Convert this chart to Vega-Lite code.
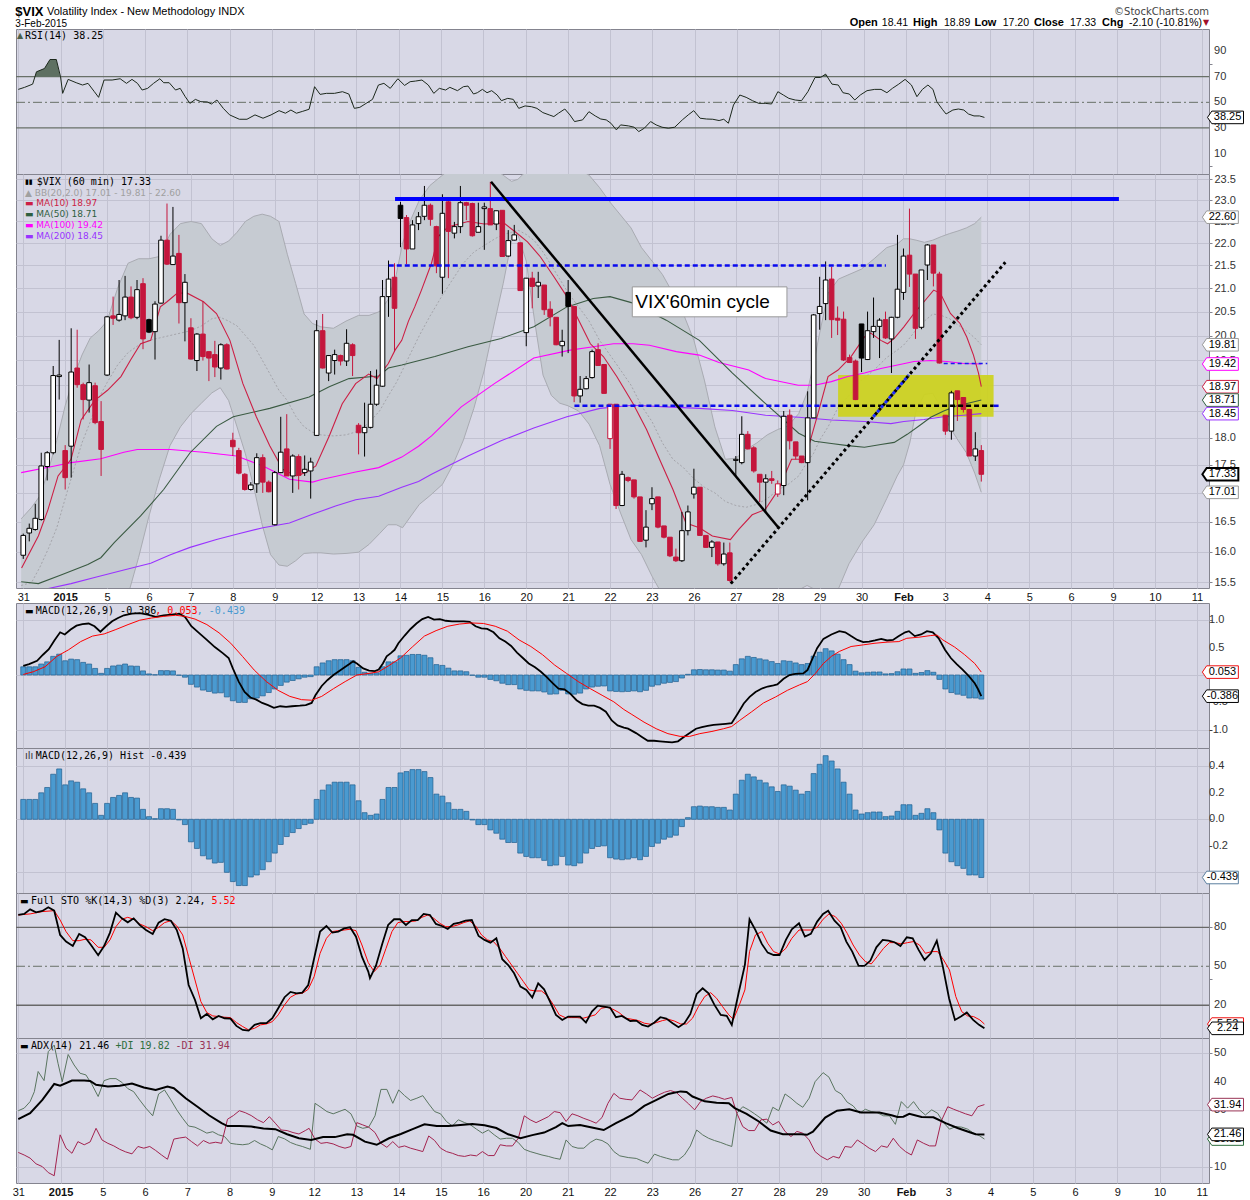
{
"$schema": "https://vega.github.io/schema/vega-lite/v6.json",
"padding": {"left": 11, "top": 0, "right": 0, "bottom": 0},
"spacing": 0,
"bounds": "flush",
"datasets": {
"candles": [
{"x":0,"o":15.94,"h":16.3,"l":15.88,"c":16.27,"m":0.15},
{"x":0.143,"o":16.31,"h":16.47,"l":16.17,"c":16.39,"m":0.15},
{"x":0.286,"o":16.37,"h":16.81,"l":16.35,"c":16.56,"m":0.15},
{"x":0.429,"o":16.54,"h":17.72,"l":16.52,"c":17.48,"m":0.2},
{"x":0.571,"o":17.47,"h":17.75,"l":17.22,"c":17.72,"m":0.24},
{"x":0.714,"o":17.72,"h":19.38,"l":17.69,"c":19.19,"m":0.34},
{"x":0.857,"o":19.17,"h":19.91,"l":18.72,"c":19.2,"m":0.38},
{"x":1,"o":17.76,"h":17.86,"l":17.06,"c":17.27,"m":0.26},
{"x":1.143,"o":17.84,"h":20.15,"l":17.27,"c":19.26,"m":0.29},
{"x":1.286,"o":19.34,"h":20.12,"l":18.95,"c":19.01,"m":0.28},
{"x":1.429,"o":19.01,"h":19.05,"l":18.34,"c":18.72,"m":0.23},
{"x":1.571,"o":18.71,"h":19.41,"l":18.47,"c":19.05,"m":0.2},
{"x":1.714,"o":18.99,"h":19.05,"l":18.25,"c":18.28,"m":0.12},
{"x":1.857,"o":18.3,"h":18.69,"l":17.3,"c":17.78,"m":0.03},
{"x":2,"o":19.2,"h":20.41,"l":19.18,"c":20.39,"m":0.12},
{"x":2.143,"o":20.41,"h":20.82,"l":20.22,"c":20.36,"m":0.165},
{"x":2.286,"o":20.32,"h":21.18,"l":20.29,"c":20.44,"m":0.18},
{"x":2.429,"o":20.41,"h":21.27,"l":20.32,"c":20.81,"m":0.2},
{"x":2.571,"o":20.81,"h":21.04,"l":20.34,"c":20.37,"m":0.165},
{"x":2.714,"o":20.38,"h":21.18,"l":20.34,"c":20.97,"m":0.16},
{"x":2.857,"o":21.1,"h":21.22,"l":19.72,"c":19.93,"m":0.075},
{"x":3,"o":20.33,"h":20.35,"l":20.05,"c":20.07,"m":0.02},
{"x":3.143,"o":20.08,"h":20.72,"l":19.51,"c":20.66,"m":0.005},
{"x":3.286,"o":20.68,"h":22.17,"l":20.67,"c":22.07,"m":0.08},
{"x":3.429,"o":22.07,"h":22.92,"l":21.51,"c":21.53,"m":0.08},
{"x":3.571,"o":21.52,"h":22.84,"l":21.51,"c":21.71,"m":0.075},
{"x":3.714,"o":21.77,"h":22.19,"l":20.25,"c":20.69,"m":-0.005},
{"x":3.857,"o":20.69,"h":21.31,"l":19.88,"c":21.13,"m":-0.04},
{"x":4,"o":20.16,"h":20.36,"l":19.51,"c":19.52,"m":-0.17},
{"x":4.143,"o":19.49,"h":20.05,"l":19.28,"c":20.03,"m":-0.22},
{"x":4.286,"o":20.03,"h":20.72,"l":19.49,"c":19.57,"m":-0.275},
{"x":4.429,"o":19.67,"h":19.67,"l":19.08,"c":19.54,"m":-0.3},
{"x":4.571,"o":19.61,"h":19.89,"l":19.16,"c":19.36,"m":-0.33},
{"x":4.714,"o":19.34,"h":19.84,"l":19.11,"c":19.81,"m":-0.325},
{"x":4.857,"o":19.81,"h":19.84,"l":19.31,"c":19.32,"m":-0.4},
{"x":5,"o":17.95,"h":18.09,"l":17.66,"c":17.83,"m":-0.47},
{"x":5.143,"o":17.76,"h":17.81,"l":17.33,"c":17.35,"m":-0.5},
{"x":5.286,"o":17.33,"h":17.35,"l":17.04,"c":17.06,"m":-0.5},
{"x":5.429,"o":17.06,"h":17.19,"l":17.04,"c":17.14,"m":-0.435},
{"x":5.571,"o":17.16,"h":17.71,"l":17,"c":17.63,"m":-0.42},
{"x":5.714,"o":17.63,"h":17.69,"l":17,"c":17.19,"m":-0.38},
{"x":5.857,"o":17.19,"h":17.22,"l":17.01,"c":17.02,"m":-0.32},
{"x":6,"o":16.45,"h":17.39,"l":16.44,"c":17.36,"m":-0.255},
{"x":6.143,"o":17.36,"h":18.39,"l":17.35,"c":17.73,"m":-0.19},
{"x":6.286,"o":17.79,"h":18.44,"l":17.3,"c":17.3,"m":-0.13},
{"x":6.429,"o":17.3,"h":17.69,"l":17,"c":17.66,"m":-0.1},
{"x":6.571,"o":17.65,"h":17.69,"l":17.06,"c":17.31,"m":-0.07},
{"x":6.714,"o":17.36,"h":17.67,"l":17.3,"c":17.42,"m":-0.04},
{"x":6.857,"o":17.39,"h":17.63,"l":16.9,"c":17.55,"m":-0.03},
{"x":7,"o":18.04,"h":20.32,"l":18.03,"c":20.1,"m":0.15},
{"x":7.143,"o":20.1,"h":20.45,"l":19.33,"c":19.34,"m":0.22},
{"x":7.286,"o":19.24,"h":19.6,"l":19.08,"c":19.59,"m":0.26},
{"x":7.429,"o":19.49,"h":19.71,"l":19.21,"c":19.61,"m":0.28},
{"x":7.571,"o":19.59,"h":19.61,"l":19.39,"c":19.48,"m":0.28},
{"x":7.714,"o":19.48,"h":20.13,"l":19.38,"c":19.84,"m":0.28},
{"x":7.857,"o":19.81,"h":19.84,"l":19.18,"c":19.59,"m":0.26},
{"x":8,"o":18.23,"h":18.27,"l":17.69,"c":18.09,"m":0.14},
{"x":8.143,"o":18.09,"h":18.66,"l":17.65,"c":18.19,"m":0.05},
{"x":8.286,"o":18.19,"h":19.28,"l":18.17,"c":18.63,"m":0.03},
{"x":8.429,"o":18.63,"h":19.31,"l":18.6,"c":19,"m":0.04},
{"x":8.571,"o":18.98,"h":21.18,"l":18.97,"c":20.82,"m":0.15},
{"x":8.714,"o":20.82,"h":21.61,"l":20.39,"c":21.2,"m":0.24},
{"x":8.857,"o":21.24,"h":21.55,"l":19.67,"c":20.57,"m":0.24},
{"x":9,"o":22.88,"h":22.96,"l":21.91,"c":22.57,"m":0.35},
{"x":9.143,"o":22.59,"h":22.65,"l":21.53,"c":21.87,"m":0.36},
{"x":9.286,"o":21.87,"h":22.53,"l":21.87,"c":22.42,"m":0.375},
{"x":9.429,"o":22.45,"h":22.72,"l":22.3,"c":22.61,"m":0.375},
{"x":9.571,"o":22.62,"h":23.34,"l":22.53,"c":22.88,"m":0.36},
{"x":9.714,"o":22.88,"h":22.92,"l":22.4,"c":22.55,"m":0.315},
{"x":9.857,"o":22.38,"h":22.4,"l":21.33,"c":21.49,"m":0.19},
{"x":10,"o":21.24,"h":23.14,"l":20.88,"c":22.69,"m":0.175},
{"x":10.143,"o":22.96,"h":23.01,"l":21.22,"c":22.27,"m":0.125},
{"x":10.286,"o":22.23,"h":22.49,"l":22.11,"c":22.38,"m":0.075},
{"x":10.429,"o":22.38,"h":23.34,"l":22.23,"c":22.94,"m":0.075},
{"x":10.571,"o":22.94,"h":22.96,"l":22.53,"c":22.88,"m":0.06},
{"x":10.714,"o":22.92,"h":22.94,"l":22.15,"c":22.17,"m":-0.005},
{"x":10.857,"o":22.25,"h":22.94,"l":22.25,"c":22.38,"m":-0.04},
{"x":11,"o":22.8,"h":22.94,"l":21.85,"c":22.84,"m":-0.04},
{"x":11.143,"o":22.8,"h":23.44,"l":22.42,"c":22.42,"m":-0.08},
{"x":11.286,"o":22.44,"h":22.75,"l":22.3,"c":22.75,"m":-0.105},
{"x":11.429,"o":22.76,"h":22.76,"l":21.7,"c":21.7,"m":-0.15},
{"x":11.571,"o":21.71,"h":22.3,"l":21.7,"c":22.06,"m":-0.175},
{"x":11.714,"o":22.07,"h":22.42,"l":22.06,"c":22.19,"m":-0.175},
{"x":11.857,"o":22.01,"h":22.01,"l":20.95,"c":20.95,"m":-0.255},
{"x":12,"o":20.06,"h":21.22,"l":19.78,"c":21.22,"m":-0.28},
{"x":12.143,"o":21.22,"h":21.36,"l":20.57,"c":21.04,"m":-0.29},
{"x":12.286,"o":21.05,"h":21.36,"l":20.79,"c":21.13,"m":-0.29},
{"x":12.429,"o":21.07,"h":21.07,"l":20.43,"c":20.54,"m":-0.31},
{"x":12.571,"o":20.55,"h":20.72,"l":20.19,"c":20.39,"m":-0.35},
{"x":12.714,"o":20.38,"h":20.38,"l":19.8,"c":19.81,"m":-0.345},
{"x":12.857,"o":19.79,"h":20.12,"l":19.57,"c":19.88,"m":-0.28},
{"x":13,"o":20.91,"h":21.18,"l":19.64,"c":20.61,"m":-0.345},
{"x":13.143,"o":20.61,"h":20.61,"l":18.67,"c":18.79,"m":-0.35},
{"x":13.286,"o":18.79,"h":19.18,"l":18.66,"c":18.92,"m":-0.33},
{"x":13.429,"o":18.93,"h":19.18,"l":18.92,"c":19.13,"m":-0.255},
{"x":13.571,"o":19.15,"h":19.71,"l":19.13,"c":19.67,"m":-0.22},
{"x":13.714,"o":19.71,"h":19.84,"l":19.38,"c":19.39,"m":-0.205},
{"x":13.857,"o":19.41,"h":19.41,"l":18.84,"c":18.84,"m":-0.2},
{"x":14,"o":17.98,"h":18.63,"l":17.79,"c":18.63,"m":-0.29},
{"x":14.143,"o":18.63,"h":18.63,"l":16.72,"c":16.78,"m":-0.3},
{"x":14.286,"o":16.78,"h":17.39,"l":16.77,"c":17.33,"m":-0.305},
{"x":14.429,"o":17.27,"h":17.29,"l":17.19,"c":17.22,"m":-0.3},
{"x":14.571,"o":17.23,"h":17.23,"l":16.9,"c":16.93,"m":-0.29},
{"x":14.714,"o":16.93,"h":16.93,"l":16.17,"c":16.17,"m":-0.305},
{"x":14.857,"o":16.19,"h":16.7,"l":16.07,"c":16.41,"m":-0.28},
{"x":15,"o":16.81,"h":17.1,"l":16.7,"c":16.9,"m":-0.205},
{"x":15.143,"o":16.93,"h":16.93,"l":16.39,"c":16.41,"m":-0.18},
{"x":15.286,"o":16.43,"h":16.43,"l":16.22,"c":16.24,"m":-0.15},
{"x":15.429,"o":16.24,"h":16.24,"l":15.91,"c":15.93,"m":-0.135},
{"x":15.571,"o":15.91,"h":16.05,"l":15.83,"c":15.85,"m":-0.12},
{"x":15.714,"o":15.85,"h":16.67,"l":15.83,"c":16.35,"m":-0.055},
{"x":15.857,"o":16.35,"h":16.78,"l":16.27,"c":16.67,"m":0.0125},
{"x":16,"o":16.98,"h":17.43,"l":16.9,"c":17.1,"m":0.095},
{"x":16.143,"o":17.1,"h":17.1,"l":16.27,"c":16.27,"m":0.1},
{"x":16.286,"o":16.27,"h":16.27,"l":16.07,"c":16.07,"m":0.095},
{"x":16.429,"o":16.07,"h":16.19,"l":15.91,"c":16.16,"m":0.095},
{"x":16.571,"o":16.16,"h":16.16,"l":15.77,"c":15.8,"m":0.09},
{"x":16.714,"o":15.8,"h":16.15,"l":15.77,"c":15.96,"m":0.09},
{"x":16.857,"o":15.98,"h":16.15,"l":15.51,"c":15.53,"m":0.07},
{"x":17,"o":17.58,"h":17.66,"l":17.3,"c":17.6,"m":0.19},
{"x":17.143,"o":17.54,"h":18.4,"l":17.51,"c":18.06,"m":0.295},
{"x":17.286,"o":18.06,"h":18.12,"l":17.78,"c":17.79,"m":0.34},
{"x":17.429,"o":17.81,"h":17.84,"l":17.36,"c":17.39,"m":0.32},
{"x":17.571,"o":17.33,"h":17.33,"l":16.84,"c":17.19,"m":0.295},
{"x":17.714,"o":17.19,"h":17.33,"l":16.67,"c":17.25,"m":0.275},
{"x":17.857,"o":17.25,"h":17.39,"l":17.16,"c":17.22,"m":0.245},
{"x":18,"o":16.98,"h":17.22,"l":16.93,"c":17.16,"m":0.21},
{"x":18.143,"o":17.13,"h":18.5,"l":16.96,"c":18.4,"m":0.26},
{"x":18.286,"o":18.42,"h":18.53,"l":17.78,"c":17.94,"m":0.25},
{"x":18.429,"o":17.92,"h":17.92,"l":17.6,"c":17.66,"m":0.22},
{"x":18.571,"o":17.66,"h":17.66,"l":17.53,"c":17.54,"m":0.19},
{"x":18.714,"o":17.54,"h":18.88,"l":16.87,"c":18.37,"m":0.21},
{"x":18.857,"o":18.37,"h":20.45,"l":18.37,"c":20.43,"m":0.345},
{"x":19,"o":20.46,"h":21.25,"l":20.12,"c":20.61,"m":0.415},
{"x":19.143,"o":20.67,"h":21.59,"l":20.32,"c":21.18,"m":0.48},
{"x":19.286,"o":21.2,"h":21.47,"l":19.95,"c":20.33,"m":0.44},
{"x":19.429,"o":20.36,"h":20.61,"l":20.01,"c":20.32,"m":0.38},
{"x":19.571,"o":20.34,"h":20.5,"l":19.48,"c":19.5,"m":0.28},
{"x":19.714,"o":19.55,"h":19.61,"l":19.44,"c":19.45,"m":0.19},
{"x":19.857,"o":19.48,"h":19.51,"l":18.71,"c":18.72,"m":0.07},
{"x":20,"o":20.24,"h":20.24,"l":19.26,"c":19.54,"m":0.04},
{"x":20.143,"o":19.51,"h":20.5,"l":19.5,"c":20.1,"m":0.05},
{"x":20.286,"o":20.08,"h":20.8,"l":19.95,"c":20.19,"m":0.055},
{"x":20.429,"o":20.19,"h":20.36,"l":19.54,"c":20.32,"m":0.055},
{"x":20.571,"o":20.33,"h":20.5,"l":19.93,"c":19.95,"m":0.02},
{"x":20.714,"o":19.93,"h":20.39,"l":19.24,"c":20.38,"m":0.025},
{"x":20.857,"o":20.38,"h":22.19,"l":20.36,"c":20.98,"m":0.06},
{"x":21,"o":20.91,"h":21.88,"l":20.75,"c":21.71,"m":0.11},
{"x":21.143,"o":21.73,"h":22.8,"l":21.03,"c":21.31,"m":0.11},
{"x":21.286,"o":21.31,"h":21.31,"l":19.93,"c":20.15,"m":0.03},
{"x":21.429,"o":20.17,"h":21.4,"l":20.13,"c":21.4,"m":0.045},
{"x":21.571,"o":21.51,"h":21.98,"l":21.18,"c":21.96,"m":0.08},
{"x":21.714,"o":21.96,"h":21.96,"l":21.04,"c":21.33,"m":0.05},
{"x":21.857,"o":21.31,"h":21.36,"l":19.43,"c":19.44,"m":-0.08},
{"x":22,"o":18.42,"h":18.42,"l":18.05,"c":18.12,"m":-0.255},
{"x":22.143,"o":18.12,"h":18.89,"l":17.96,"c":18.85,"m":-0.32},
{"x":22.286,"o":18.89,"h":18.89,"l":18.31,"c":18.72,"m":-0.35},
{"x":22.429,"o":18.76,"h":18.76,"l":18.47,"c":18.53,"m":-0.37},
{"x":22.571,"o":18.53,"h":18.54,"l":17.66,"c":17.66,"m":-0.42},
{"x":22.714,"o":17.66,"h":18.1,"l":17.57,"c":17.79,"m":-0.42},
{"x":22.857,"o":17.76,"h":17.86,"l":17.2,"c":17.33,"m":-0.439}
],
"bb": [
{"x":-0.05,"u":16.55,"m":15.45,"l":14.4},{"x":0.2,"u":16.75,"m":15.5,"l":14.3},{"x":0.4,"u":16.95,"m":15.75,"l":14.2},{"x":0.6,"u":17.4,"m":16.05,"l":14.1},
{"x":0.8,"u":17.95,"m":16.4,"l":14},{"x":1,"u":18.6,"m":16.9,"l":14},{"x":1.2,"u":19.15,"m":17.4,"l":14},{"x":1.4,"u":19.6,"m":17.9,"l":14},
{"x":1.6,"u":19.95,"m":18.3,"l":14.1},{"x":1.8,"u":20.1,"m":18.75,"l":14.2},{"x":2,"u":20.3,"m":19.05,"l":14.4},{"x":2.25,"u":21,"m":19.4,"l":14.8},
{"x":2.5,"u":21.55,"m":19.65,"l":15.3},{"x":2.75,"u":21.65,"m":19.8,"l":15.9},{"x":3,"u":21.65,"m":19.9,"l":16.6},{"x":3.25,"u":21.7,"m":19.95,"l":17.25},
{"x":3.5,"u":22.2,"m":20,"l":17.85},{"x":3.75,"u":22.45,"m":20.05,"l":18.2},{"x":4,"u":22.5,"m":20.1,"l":18.45},{"x":4.25,"u":22.45,"m":20.2,"l":18.65},
{"x":4.5,"u":22.1,"m":20.35,"l":18.85},{"x":4.7,"u":21.95,"m":20.38,"l":18.95},{"x":4.9,"u":22.05,"m":20.3,"l":18.7},{"x":5.1,"u":22.25,"m":20.2,"l":18.2},
{"x":5.3,"u":22.5,"m":20,"l":17.7},{"x":5.5,"u":22.62,"m":19.8,"l":17.1},{"x":5.7,"u":22.67,"m":19.5,"l":16.45},{"x":5.9,"u":22.62,"m":19.2,"l":15.95},
{"x":6.1,"u":22.5,"m":18.9,"l":15.78},{"x":6.3,"u":21.75,"m":18.7,"l":15.76},{"x":6.5,"u":21.1,"m":18.4,"l":15.85},{"x":6.7,"u":20.45,"m":18.2,"l":15.97},
{"x":6.9,"u":20.25,"m":18.1,"l":15.98},{"x":7.1,"u":20.18,"m":18.05,"l":15.98},{"x":7.4,"u":20.15,"m":18.03,"l":15.96},{"x":7.7,"u":20.3,"m":18.05,"l":15.97},
{"x":8,"u":20.42,"m":18.12,"l":15.99},{"x":8.25,"u":20.42,"m":18.28,"l":16.12},{"x":8.5,"u":20.5,"m":18.5,"l":16.3},{"x":8.7,"u":20.75,"m":18.78,"l":16.45},
{"x":8.9,"u":21.3,"m":19.05,"l":16.45},{"x":9.05,"u":22,"m":19.3,"l":16.4},{"x":9.25,"u":22.55,"m":19.65,"l":16.6},{"x":9.45,"u":23,"m":20,"l":16.8},
{"x":9.7,"u":23.35,"m":20.4,"l":16.95},{"x":10,"u":23.6,"m":20.85,"l":17.15},{"x":10.25,"u":23.8,"m":21.2,"l":17.5},{"x":10.5,"u":23.85,"m":21.55,"l":17.95},
{"x":10.75,"u":23.85,"m":21.8,"l":18.55},{"x":11,"u":23.8,"m":21.95,"l":19.3},{"x":11.25,"u":23.75,"m":22.1,"l":20.3},{"x":11.45,"u":23.6,"m":22.2,"l":21.1},
{"x":11.65,"u":23.45,"m":22.25,"l":22.05},{"x":11.8,"u":23.5,"m":22.3,"l":22.2},{"x":12,"u":23.7,"m":22.2,"l":21.6},{"x":12.2,"u":23.8,"m":22.05,"l":20.3},
{"x":12.4,"u":23.85,"m":21.8,"l":19.2},{"x":12.6,"u":23.85,"m":21.5,"l":18.8},{"x":12.8,"u":23.8,"m":21.2,"l":18.65},{"x":13,"u":23.8,"m":20.9,"l":18.6},
{"x":13.25,"u":23.75,"m":20.6,"l":18.5},{"x":13.5,"u":23.6,"m":20.3,"l":18.25},{"x":13.75,"u":23.3,"m":19.9,"l":17.85},{"x":14,"u":22.95,"m":19.6,"l":17.15},
{"x":14.25,"u":22.65,"m":19.3,"l":16.65},{"x":14.5,"u":22.35,"m":19,"l":16.2},{"x":14.75,"u":21.9,"m":18.6,"l":15.95},{"x":15,"u":21.6,"m":18.3,"l":15.6},
{"x":15.25,"u":21.3,"m":17.9,"l":15.3},{"x":15.5,"u":20.89,"m":17.6,"l":15},{"x":15.75,"u":20.45,"m":17.45,"l":14.8},{"x":16,"u":19.9,"m":17.25,"l":14.6},
{"x":16.25,"u":19.1,"m":17.1,"l":14.6},{"x":16.5,"u":18.2,"m":17,"l":14.6},{"x":16.75,"u":17.6,"m":16.85,"l":14.7},{"x":17,"u":17.62,"m":16.78,"l":14.8},
{"x":17.25,"u":17.78,"m":16.75,"l":14.95},{"x":17.5,"u":17.9,"m":16.8,"l":15.05},{"x":17.75,"u":18.05,"m":16.9,"l":15.15},{"x":18,"u":18.15,"m":17.05,"l":15.2},
{"x":18.25,"u":18.22,"m":17.15,"l":15.3},{"x":18.5,"u":18.45,"m":17.3,"l":15.38},{"x":18.7,"u":18.85,"m":17.55,"l":15.45},{"x":18.85,"u":19.4,"m":17.7,"l":15.4},
{"x":19,"u":20.05,"m":17.95,"l":15.35},{"x":19.2,"u":20.89,"m":18.2,"l":15.3},{"x":19.45,"u":21.2,"m":18.58,"l":15.4},{"x":19.7,"u":21.3,"m":18.8,"l":15.8},
{"x":20,"u":21.42,"m":19.1,"l":16.15},{"x":20.3,"u":21.65,"m":19.3,"l":16.45},{"x":20.6,"u":21.9,"m":19.55,"l":16.9},{"x":20.85,"u":21.98,"m":19.7,"l":17.3},
{"x":21,"u":22.1,"m":19.8,"l":17.5},{"x":21.15,"u":22.1,"m":19.95,"l":17.9},{"x":21.3,"u":22.07,"m":20.12,"l":18.5},{"x":21.5,"u":22.02,"m":20.3,"l":18.82},
{"x":21.7,"u":22.07,"m":20.45,"l":18.84},{"x":21.9,"u":22.15,"m":20.42,"l":18.55},{"x":22.1,"u":22.22,"m":20.35,"l":18.2},{"x":22.3,"u":22.28,"m":20.22,"l":17.95},
{"x":22.5,"u":22.35,"m":20.1,"l":17.72},{"x":22.7,"u":22.45,"m":19.95,"l":17.35},{"x":22.857,"u":22.6,"m":19.81,"l":17.01}
],
"ma": [
{"x":-0.04,"s":"MA10","v":15.73},{"x":0.36,"s":"MA10","v":16.26},{"x":0.59,"s":"MA10","v":16.71},{"x":0.83,"s":"MA10","v":17.3},{"x":1.14,"s":"MA10","v":17.6},{"x":1.38,"s":"MA10","v":18.33},{"x":1.7,"s":"MA10","v":18.7},{"x":2.01,"s":"MA10","v":18.9},{"x":2.33,"s":"MA10","v":19.17},{"x":2.56,"s":"MA10","v":19.5},{"x":2.8,"s":"MA10","v":19.83},{"x":3.04,"s":"MA10","v":19.9},{"x":3.27,"s":"MA10","v":20.6},{"x":3.43,"s":"MA10","v":20.71},{"x":3.67,"s":"MA10","v":20.89},{"x":3.9,"s":"MA10","v":20.9},{"x":4.3,"s":"MA10","v":20.71},{"x":4.61,"s":"MA10","v":20.46},{"x":4.93,"s":"MA10","v":19.9},{"x":5.24,"s":"MA10","v":19.03},{"x":5.56,"s":"MA10","v":18.39},{"x":5.88,"s":"MA10","v":17.85},{"x":6.19,"s":"MA10","v":17.42},{"x":6.51,"s":"MA10","v":17.3},{"x":6.74,"s":"MA10","v":17.36},{"x":6.98,"s":"MA10","v":17.48},{"x":7.3,"s":"MA10","v":18.03},{"x":7.61,"s":"MA10","v":18.64},{"x":7.93,"s":"MA10","v":19.03},{"x":8.24,"s":"MA10","v":19.22},{"x":8.44,"s":"MA10","v":19.13},{"x":8.71,"s":"MA10","v":19.43},{"x":8.87,"s":"MA10","v":19.7},{"x":9.03,"s":"MA10","v":19.9},{"x":9.19,"s":"MA10","v":20.3},{"x":9.34,"s":"MA10","v":20.6},{"x":9.5,"s":"MA10","v":20.96},{"x":9.74,"s":"MA10","v":21.55},{"x":9.9,"s":"MA10","v":22.15},{"x":10.13,"s":"MA10","v":22.37},{"x":10.61,"s":"MA10","v":22.5},{"x":11,"s":"MA10","v":22.44},{"x":11.47,"s":"MA10","v":22.46},{"x":11.75,"s":"MA10","v":22.25},{"x":12.03,"s":"MA10","v":22.03},{"x":12.34,"s":"MA10","v":21.69},{"x":12.66,"s":"MA10","v":21.25},{"x":12.97,"s":"MA10","v":20.82},{"x":13.21,"s":"MA10","v":20.39},{"x":13.53,"s":"MA10","v":19.83},{"x":13.84,"s":"MA10","v":19.57},{"x":14.16,"s":"MA10","v":19.17},{"x":14.55,"s":"MA10","v":18.64},{"x":14.87,"s":"MA10","v":18.15},{"x":15.18,"s":"MA10","v":17.6},{"x":15.5,"s":"MA10","v":17.06},{"x":15.81,"s":"MA10","v":16.48},{"x":16.13,"s":"MA10","v":16.4},{"x":16.44,"s":"MA10","v":16.26},{"x":16.87,"s":"MA10","v":16.2},{"x":17.07,"s":"MA10","v":16.37},{"x":17.39,"s":"MA10","v":16.62},{"x":17.7,"s":"MA10","v":16.71},{"x":18.02,"s":"MA10","v":17.06},{"x":18.33,"s":"MA10","v":17.6},{"x":18.65,"s":"MA10","v":17.6},{"x":18.96,"s":"MA10","v":18.45},{"x":19.2,"s":"MA10","v":19.17},{"x":19.44,"s":"MA10","v":19.3},{"x":19.75,"s":"MA10","v":19.57},{"x":20.07,"s":"MA10","v":19.97},{"x":20.22,"s":"MA10","v":20.05},{"x":20.46,"s":"MA10","v":19.9},{"x":20.62,"s":"MA10","v":19.83},{"x":20.78,"s":"MA10","v":19.94},{"x":21.01,"s":"MA10","v":20.18},{"x":21.25,"s":"MA10","v":20.46},{"x":21.49,"s":"MA10","v":20.71},{"x":21.72,"s":"MA10","v":20.96},{"x":21.88,"s":"MA10","v":20.89},{"x":22.12,"s":"MA10","v":20.46},{"x":22.35,"s":"MA10","v":20.25},{"x":22.51,"s":"MA10","v":19.97},{"x":22.67,"s":"MA10","v":19.6},{"x":22.79,"s":"MA10","v":19.24},{"x":22.857,"s":"MA10","v":18.97},
{"x":-0.05,"s":"MA50","v":15.51},{"x":0.36,"s":"MA50","v":15.48},{"x":0.9,"s":"MA50","v":15.62},{"x":1.54,"s":"MA50","v":15.79},{"x":1.85,"s":"MA50","v":15.9},{"x":2.17,"s":"MA50","v":16.15},{"x":2.8,"s":"MA50","v":16.6},{"x":3.35,"s":"MA50","v":17.06},{"x":3.98,"s":"MA50","v":17.72},{"x":4.61,"s":"MA50","v":18.21},{"x":5.01,"s":"MA50","v":18.39},{"x":5.88,"s":"MA50","v":18.55},{"x":6.82,"s":"MA50","v":18.77},{"x":7.3,"s":"MA50","v":18.97},{"x":7.77,"s":"MA50","v":19.13},{"x":8.48,"s":"MA50","v":19.18},{"x":8.71,"s":"MA50","v":19.34},{"x":9.03,"s":"MA50","v":19.4},{"x":9.82,"s":"MA50","v":19.57},{"x":10.61,"s":"MA50","v":19.77},{"x":11.4,"s":"MA50","v":19.94},{"x":12.18,"s":"MA50","v":20.18},{"x":12.97,"s":"MA50","v":20.6},{"x":13.6,"s":"MA50","v":20.78},{"x":14,"s":"MA50","v":20.82},{"x":14.55,"s":"MA50","v":20.68},{"x":15.34,"s":"MA50","v":20.32},{"x":16.13,"s":"MA50","v":19.9},{"x":16.92,"s":"MA50","v":19.24},{"x":17.71,"s":"MA50","v":18.64},{"x":18.5,"s":"MA50","v":18.08},{"x":18.88,"s":"MA50","v":17.93},{"x":19.28,"s":"MA50","v":17.89},{"x":19.67,"s":"MA50","v":17.85},{"x":20.07,"s":"MA50","v":17.82},{"x":20.46,"s":"MA50","v":17.87},{"x":20.78,"s":"MA50","v":17.91},{"x":21.09,"s":"MA50","v":18.06},{"x":21.41,"s":"MA50","v":18.24},{"x":21.65,"s":"MA50","v":18.38},{"x":21.96,"s":"MA50","v":18.5},{"x":22.28,"s":"MA50","v":18.6},{"x":22.59,"s":"MA50","v":18.66},{"x":22.857,"s":"MA50","v":18.71},
{"x":-0.05,"s":"MA100","v":17.36},{"x":0.75,"s":"MA100","v":17.48},{"x":1.14,"s":"MA100","v":17.54},{"x":1.85,"s":"MA100","v":17.61},{"x":2.4,"s":"MA100","v":17.73},{"x":2.72,"s":"MA100","v":17.78},{"x":3.51,"s":"MA100","v":17.78},{"x":4.3,"s":"MA100","v":17.73},{"x":5.09,"s":"MA100","v":17.66},{"x":5.72,"s":"MA100","v":17.48},{"x":6.35,"s":"MA100","v":17.24},{"x":6.9,"s":"MA100","v":17.19},{"x":7.14,"s":"MA100","v":17.24},{"x":7.93,"s":"MA100","v":17.37},{"x":8.48,"s":"MA100","v":17.45},{"x":9.03,"s":"MA100","v":17.64},{"x":9.43,"s":"MA100","v":17.84},{"x":9.74,"s":"MA100","v":18.03},{"x":10.45,"s":"MA100","v":18.58},{"x":11.24,"s":"MA100","v":19.03},{"x":12.18,"s":"MA100","v":19.54},{"x":13.05,"s":"MA100","v":19.7},{"x":13.6,"s":"MA100","v":19.77},{"x":14.08,"s":"MA100","v":19.83},{"x":14.55,"s":"MA100","v":19.83},{"x":14.94,"s":"MA100","v":19.8},{"x":15.58,"s":"MA100","v":19.67},{"x":16.13,"s":"MA100","v":19.6},{"x":16.6,"s":"MA100","v":19.45},{"x":17.31,"s":"MA100","v":19.3},{"x":17.71,"s":"MA100","v":19.13},{"x":18.49,"s":"MA100","v":19},{"x":18.88,"s":"MA100","v":19},{"x":19.28,"s":"MA100","v":19.07},{"x":19.67,"s":"MA100","v":19.17},{"x":20.07,"s":"MA100","v":19.24},{"x":20.46,"s":"MA100","v":19.33},{"x":20.86,"s":"MA100","v":19.4},{"x":21.25,"s":"MA100","v":19.47},{"x":21.65,"s":"MA100","v":19.49},{"x":22.04,"s":"MA100","v":19.47},{"x":22.43,"s":"MA100","v":19.43},{"x":22.857,"s":"MA100","v":19.42},
{"x":-0.05,"s":"MA200","v":15.2},{"x":0.59,"s":"MA200","v":15.4},{"x":1.14,"s":"MA200","v":15.48},{"x":1.77,"s":"MA200","v":15.59},{"x":2.4,"s":"MA200","v":15.7},{"x":3.04,"s":"MA200","v":15.81},{"x":3.51,"s":"MA200","v":15.95},{"x":3.98,"s":"MA200","v":16.07},{"x":4.61,"s":"MA200","v":16.2},{"x":5.09,"s":"MA200","v":16.29},{"x":5.72,"s":"MA200","v":16.4},{"x":6.35,"s":"MA200","v":16.48},{"x":6.9,"s":"MA200","v":16.63},{"x":7.45,"s":"MA200","v":16.77},{"x":7.93,"s":"MA200","v":16.88},{"x":8.48,"s":"MA200","v":16.94},{"x":9.03,"s":"MA200","v":17.1},{"x":9.43,"s":"MA200","v":17.2},{"x":9.74,"s":"MA200","v":17.33},{"x":10.61,"s":"MA200","v":17.66},{"x":11.4,"s":"MA200","v":17.94},{"x":12.18,"s":"MA200","v":18.18},{"x":12.97,"s":"MA200","v":18.39},{"x":13.76,"s":"MA200","v":18.55},{"x":14.55,"s":"MA200","v":18.61},{"x":15.34,"s":"MA200","v":18.58},{"x":16.13,"s":"MA200","v":18.55},{"x":16.92,"s":"MA200","v":18.51},{"x":17.71,"s":"MA200","v":18.42},{"x":18.5,"s":"MA200","v":18.38},{"x":19.28,"s":"MA200","v":18.33},{"x":20.07,"s":"MA200","v":18.3},{"x":20.7,"s":"MA200","v":18.26},{"x":21.01,"s":"MA200","v":18.3},{"x":21.49,"s":"MA200","v":18.34},{"x":21.96,"s":"MA200","v":18.39},{"x":22.43,"s":"MA200","v":18.42},{"x":22.857,"s":"MA200","v":18.45}
],
"rsi": [
{"x":0,"v":60.1},{"x":0.15,"v":61.7},{"x":0.34,"v":64.2},{"x":0.43,"v":73.8},{"x":0.62,"v":76.4},{"x":0.75,"v":83.4},{"x":0.9,"v":83.4},{"x":1,"v":69.9},{"x":1.05,"v":57},{"x":1.18,"v":67.9},{"x":1.37,"v":65.3},{"x":1.52,"v":63.5},{"x":1.65,"v":64.8},{"x":1.8,"v":58.3},{"x":1.9,"v":53.9},{"x":2.03,"v":67.4},{"x":2.22,"v":67.4},{"x":2.41,"v":68.4},{"x":2.56,"v":64.8},{"x":2.69,"v":67.9},{"x":2.82,"v":64.8},{"x":2.93,"v":59.6},{"x":3.06,"v":60.9},{"x":3.2,"v":64.8},{"x":3.35,"v":68.4},{"x":3.44,"v":65.3},{"x":3.57,"v":65.3},{"x":3.72,"v":59.6},{"x":3.83,"v":60.9},{"x":3.95,"v":54.4},{"x":4.06,"v":49.2},{"x":4.19,"v":52.3},{"x":4.32,"v":50.5},{"x":4.47,"v":50.3},{"x":4.57,"v":48.7},{"x":4.7,"v":51.8},{"x":4.85,"v":45.3},{"x":5,"v":40.2},{"x":5.23,"v":36.8},{"x":5.41,"v":36.8},{"x":5.6,"v":40.2},{"x":5.79,"v":37.6},{"x":5.98,"v":40.2},{"x":6.17,"v":43.5},{"x":6.32,"v":41.5},{"x":6.45,"v":44},{"x":6.58,"v":41.5},{"x":6.73,"v":43},{"x":6.88,"v":44.6},{"x":7.01,"v":62.2},{"x":7.14,"v":56.2},{"x":7.29,"v":57},{"x":7.48,"v":57},{"x":7.67,"v":58.3},{"x":7.82,"v":56.5},{"x":7.95,"v":45.3},{"x":8.08,"v":46.1},{"x":8.23,"v":49.2},{"x":8.38,"v":52.3},{"x":8.52,"v":63.5},{"x":8.65,"v":64.8},{"x":8.8,"v":60.9},{"x":8.98,"v":68.4},{"x":9.14,"v":63.2},{"x":9.27,"v":66.1},{"x":9.4,"v":66.6},{"x":9.55,"v":67.4},{"x":9.7,"v":63.5},{"x":9.83,"v":57},{"x":9.96,"v":60.9},{"x":10.11,"v":59.6},{"x":10.21,"v":61.7},{"x":10.39,"v":59.1},{"x":10.53,"v":62.2},{"x":10.64,"v":62.7},{"x":10.77,"v":56.5},{"x":10.86,"v":57.5},{"x":10.98,"v":60.1},{"x":11.09,"v":57.5},{"x":11.2,"v":59.1},{"x":11.33,"v":55.7},{"x":11.43,"v":51.3},{"x":11.58,"v":53.1},{"x":11.71,"v":52.3},{"x":11.84,"v":45.3},{"x":11.99,"v":47.2},{"x":12.14,"v":46.6},{"x":12.27,"v":45.3},{"x":12.41,"v":42},{"x":12.56,"v":40.2},{"x":12.67,"v":38.9},{"x":12.78,"v":41.5},{"x":12.93,"v":44.8},{"x":13.05,"v":40.2},{"x":13.16,"v":35},{"x":13.35,"v":36.3},{"x":13.5,"v":42.7},{"x":13.65,"v":39.4},{"x":13.78,"v":37},{"x":13.91,"v":36.3},{"x":14.02,"v":33.7},{"x":14.15,"v":28.5},{"x":14.25,"v":32.4},{"x":14.44,"v":31.6},{"x":14.57,"v":30.6},{"x":14.68,"v":27.2},{"x":14.81,"v":29.8},{"x":14.96,"v":35},{"x":15.09,"v":32.4},{"x":15.23,"v":30.6},{"x":15.38,"v":29.8},{"x":15.53,"v":30.6},{"x":15.71,"v":36.3},{"x":15.85,"v":40.2},{"x":15.98,"v":43.5},{"x":16.13,"v":37.6},{"x":16.28,"v":37},{"x":16.43,"v":36.8},{"x":16.58,"v":35.8},{"x":16.69,"v":36.8},{"x":16.8,"v":33.7},{"x":16.92,"v":47.9},{"x":17.07,"v":55.7},{"x":17.22,"v":53.9},{"x":17.37,"v":51.3},{"x":17.52,"v":49.2},{"x":17.67,"v":49.2},{"x":17.82,"v":48.7},{"x":17.97,"v":58.3},{"x":18.1,"v":55.7},{"x":18.23,"v":53.1},{"x":18.38,"v":51.8},{"x":18.53,"v":51.3},{"x":18.68,"v":58.3},{"x":18.85,"v":69.4},{"x":18.98,"v":69.4},{"x":19.1,"v":72},{"x":19.25,"v":64.2},{"x":19.4,"v":63.5},{"x":19.51,"v":57.5},{"x":19.66,"v":56.5},{"x":19.79,"v":51.8},{"x":19.92,"v":55.7},{"x":20.08,"v":59.1},{"x":20.26,"v":60.1},{"x":20.41,"v":60.1},{"x":20.55,"v":57.5},{"x":20.68,"v":60.9},{"x":20.83,"v":64.2},{"x":20.98,"v":67.9},{"x":21.13,"v":63.5},{"x":21.26,"v":54.4},{"x":21.39,"v":60.1},{"x":21.52,"v":63.5},{"x":21.64,"v":60.1},{"x":21.73,"v":50.5},{"x":21.86,"v":44.6},{"x":21.95,"v":40.9},{"x":22.11,"v":44},{"x":22.24,"v":44.8},{"x":22.37,"v":44},{"x":22.48,"v":40.9},{"x":22.61,"v":39.4},{"x":22.74,"v":39.4},{"x":22.857,"v":38.25}
],
"macd": [
{"x":0,"s":"M","v":0.166},{"x":0.14,"s":"M","v":0.2},{"x":0.33,"s":"M","v":0.26},{"x":0.47,"s":"M","v":0.37},{"x":0.61,"s":"M","v":0.47},{"x":0.75,"s":"M","v":0.64},{"x":0.88,"s":"M","v":0.78},{"x":0.99,"s":"M","v":0.74},{"x":1.13,"s":"M","v":0.83},{"x":1.27,"s":"M","v":0.9},{"x":1.41,"s":"M","v":0.93},{"x":1.56,"s":"M","v":0.94},{"x":1.7,"s":"M","v":0.89},{"x":1.84,"s":"M","v":0.79},{"x":1.98,"s":"M","v":0.89},{"x":2.12,"s":"M","v":0.98},{"x":2.26,"s":"M","v":1.04},{"x":2.4,"s":"M","v":1.09},{"x":2.59,"s":"M","v":1.12},{"x":2.78,"s":"M","v":1.13},{"x":2.97,"s":"M","v":1.1},{"x":3.16,"s":"M","v":1.06},{"x":3.35,"s":"M","v":1.09},{"x":3.53,"s":"M","v":1.1},{"x":3.72,"s":"M","v":1.12},{"x":3.86,"s":"M","v":1.06},{"x":4.01,"s":"M","v":0.89},{"x":4.19,"s":"M","v":0.77},{"x":4.38,"s":"M","v":0.64},{"x":4.57,"s":"M","v":0.51},{"x":4.76,"s":"M","v":0.4},{"x":4.9,"s":"M","v":0.31},{"x":5,"s":"M","v":0.12},{"x":5.14,"s":"M","v":-0.12},{"x":5.28,"s":"M","v":-0.31},{"x":5.42,"s":"M","v":-0.41},{"x":5.56,"s":"M","v":-0.45},{"x":5.7,"s":"M","v":-0.51},{"x":5.84,"s":"M","v":-0.55},{"x":5.98,"s":"M","v":-0.6},{"x":6.13,"s":"M","v":-0.57},{"x":6.27,"s":"M","v":-0.58},{"x":6.41,"s":"M","v":-0.57},{"x":6.6,"s":"M","v":-0.56},{"x":6.74,"s":"M","v":-0.55},{"x":6.88,"s":"M","v":-0.51},{"x":6.97,"s":"M","v":-0.37},{"x":7.12,"s":"M","v":-0.2},{"x":7.26,"s":"M","v":-0.09},{"x":7.4,"s":"M","v":0},{"x":7.59,"s":"M","v":0.1},{"x":7.78,"s":"M","v":0.2},{"x":7.87,"s":"M","v":0.25},{"x":7.96,"s":"M","v":0.21},{"x":8.11,"s":"M","v":0.12},{"x":8.25,"s":"M","v":0.08},{"x":8.39,"s":"M","v":0.07},{"x":8.48,"s":"M","v":0.1},{"x":8.58,"s":"M","v":0.21},{"x":8.67,"s":"M","v":0.34},{"x":8.77,"s":"M","v":0.4},{"x":8.86,"s":"M","v":0.46},{"x":8.95,"s":"M","v":0.58},{"x":9.1,"s":"M","v":0.72},{"x":9.24,"s":"M","v":0.84},{"x":9.38,"s":"M","v":0.94},{"x":9.52,"s":"M","v":1.02},{"x":9.66,"s":"M","v":1.06},{"x":9.8,"s":"M","v":1.01},{"x":9.94,"s":"M","v":1.02},{"x":10.08,"s":"M","v":0.99},{"x":10.23,"s":"M","v":0.98},{"x":10.37,"s":"M","v":0.98},{"x":10.51,"s":"M","v":0.98},{"x":10.65,"s":"M","v":0.97},{"x":10.79,"s":"M","v":0.89},{"x":10.93,"s":"M","v":0.85},{"x":11.07,"s":"M","v":0.84},{"x":11.22,"s":"M","v":0.78},{"x":11.36,"s":"M","v":0.67},{"x":11.5,"s":"M","v":0.61},{"x":11.64,"s":"M","v":0.53},{"x":11.78,"s":"M","v":0.41},{"x":11.92,"s":"M","v":0.31},{"x":12.06,"s":"M","v":0.21},{"x":12.21,"s":"M","v":0.14},{"x":12.35,"s":"M","v":0.06},{"x":12.49,"s":"M","v":-0.04},{"x":12.63,"s":"M","v":-0.15},{"x":12.77,"s":"M","v":-0.25},{"x":12.91,"s":"M","v":-0.26},{"x":13.05,"s":"M","v":-0.34},{"x":13.2,"s":"M","v":-0.46},{"x":13.34,"s":"M","v":-0.53},{"x":13.48,"s":"M","v":-0.56},{"x":13.62,"s":"M","v":-0.56},{"x":13.76,"s":"M","v":-0.6},{"x":13.9,"s":"M","v":-0.67},{"x":14.04,"s":"M","v":-0.83},{"x":14.18,"s":"M","v":-0.92},{"x":14.33,"s":"M","v":-0.96},{"x":14.43,"s":"M","v":-0.98},{"x":14.62,"s":"M","v":-1.06},{"x":14.76,"s":"M","v":-1.13},{"x":14.9,"s":"M","v":-1.2},{"x":15.05,"s":"M","v":-1.2},{"x":15.19,"s":"M","v":-1.21},{"x":15.33,"s":"M","v":-1.22},{"x":15.48,"s":"M","v":-1.23},{"x":15.62,"s":"M","v":-1.21},{"x":15.76,"s":"M","v":-1.13},{"x":15.9,"s":"M","v":-1.06},{"x":16.05,"s":"M","v":-0.98},{"x":16.19,"s":"M","v":-0.95},{"x":16.33,"s":"M","v":-0.93},{"x":16.47,"s":"M","v":-0.91},{"x":16.62,"s":"M","v":-0.9},{"x":16.76,"s":"M","v":-0.89},{"x":16.9,"s":"M","v":-0.88},{"x":17.04,"s":"M","v":-0.71},{"x":17.19,"s":"M","v":-0.52},{"x":17.33,"s":"M","v":-0.4},{"x":17.47,"s":"M","v":-0.31},{"x":17.61,"s":"M","v":-0.25},{"x":17.76,"s":"M","v":-0.21},{"x":17.9,"s":"M","v":-0.19},{"x":17.99,"s":"M","v":-0.17},{"x":18.14,"s":"M","v":-0.07},{"x":18.28,"s":"M","v":0},{"x":18.42,"s":"M","v":0.02},{"x":18.61,"s":"M","v":0.03},{"x":18.71,"s":"M","v":0.09},{"x":18.8,"s":"M","v":0.25},{"x":18.94,"s":"M","v":0.49},{"x":19.09,"s":"M","v":0.66},{"x":19.28,"s":"M","v":0.74},{"x":19.47,"s":"M","v":0.8},{"x":19.61,"s":"M","v":0.78},{"x":19.75,"s":"M","v":0.71},{"x":19.9,"s":"M","v":0.64},{"x":20.04,"s":"M","v":0.6},{"x":20.18,"s":"M","v":0.61},{"x":20.32,"s":"M","v":0.63},{"x":20.47,"s":"M","v":0.66},{"x":20.61,"s":"M","v":0.63},{"x":20.75,"s":"M","v":0.64},{"x":20.89,"s":"M","v":0.71},{"x":21.04,"s":"M","v":0.78},{"x":21.13,"s":"M","v":0.8},{"x":21.27,"s":"M","v":0.71},{"x":21.42,"s":"M","v":0.74},{"x":21.56,"s":"M","v":0.8},{"x":21.7,"s":"M","v":0.78},{"x":21.84,"s":"M","v":0.67},{"x":21.99,"s":"M","v":0.46},{"x":22.13,"s":"M","v":0.31},{"x":22.27,"s":"M","v":0.2},{"x":22.41,"s":"M","v":0.1},{"x":22.56,"s":"M","v":-0.02},{"x":22.7,"s":"M","v":-0.15},{"x":22.78,"s":"M","v":-0.26},{"x":22.857,"s":"M","v":-0.386},
{"x":0,"s":"S","v":0.01},{"x":0.24,"s":"S","v":0.06},{"x":0.52,"s":"S","v":0.15},{"x":0.8,"s":"S","v":0.34},{"x":1.08,"s":"S","v":0.46},{"x":1.37,"s":"S","v":0.61},{"x":1.65,"s":"S","v":0.71},{"x":1.93,"s":"S","v":0.75},{"x":2.21,"s":"S","v":0.83},{"x":2.5,"s":"S","v":0.92},{"x":2.78,"s":"S","v":1},{"x":3.06,"s":"S","v":1.04},{"x":3.35,"s":"S","v":1.07},{"x":3.63,"s":"S","v":1.09},{"x":3.86,"s":"S","v":1.07},{"x":4.1,"s":"S","v":1.02},{"x":4.38,"s":"S","v":0.92},{"x":4.67,"s":"S","v":0.77},{"x":4.95,"s":"S","v":0.58},{"x":5.23,"s":"S","v":0.34},{"x":5.51,"s":"S","v":0.09},{"x":5.8,"s":"S","v":-0.12},{"x":6.08,"s":"S","v":-0.28},{"x":6.36,"s":"S","v":-0.39},{"x":6.64,"s":"S","v":-0.45},{"x":6.88,"s":"S","v":-0.46},{"x":7.12,"s":"S","v":-0.39},{"x":7.4,"s":"S","v":-0.25},{"x":7.68,"s":"S","v":-0.12},{"x":7.96,"s":"S","v":0},{"x":8.25,"s":"S","v":0.03},{"x":8.48,"s":"S","v":0.06},{"x":8.72,"s":"S","v":0.17},{"x":9,"s":"S","v":0.31},{"x":9.28,"s":"S","v":0.51},{"x":9.57,"s":"S","v":0.71},{"x":9.85,"s":"S","v":0.81},{"x":10.13,"s":"S","v":0.89},{"x":10.41,"s":"S","v":0.93},{"x":10.7,"s":"S","v":0.95},{"x":10.98,"s":"S","v":0.94},{"x":11.26,"s":"S","v":0.89},{"x":11.55,"s":"S","v":0.8},{"x":11.83,"s":"S","v":0.64},{"x":12.11,"s":"S","v":0.52},{"x":12.39,"s":"S","v":0.37},{"x":12.68,"s":"S","v":0.18},{"x":12.96,"s":"S","v":0.03},{"x":13.24,"s":"S","v":-0.12},{"x":13.53,"s":"S","v":-0.25},{"x":13.81,"s":"S","v":-0.37},{"x":14.09,"s":"S","v":-0.49},{"x":14.33,"s":"S","v":-0.63},{"x":14.52,"s":"S","v":-0.72},{"x":14.81,"s":"S","v":-0.86},{"x":15.1,"s":"S","v":-0.98},{"x":15.38,"s":"S","v":-1.07},{"x":15.67,"s":"S","v":-1.12},{"x":15.9,"s":"S","v":-1.12},{"x":16.14,"s":"S","v":-1.07},{"x":16.43,"s":"S","v":-1.03},{"x":16.71,"s":"S","v":-0.98},{"x":16.9,"s":"S","v":-0.94},{"x":17.09,"s":"S","v":-0.83},{"x":17.38,"s":"S","v":-0.67},{"x":17.66,"s":"S","v":-0.51},{"x":17.95,"s":"S","v":-0.4},{"x":18.23,"s":"S","v":-0.28},{"x":18.52,"s":"S","v":-0.18},{"x":18.71,"s":"S","v":-0.12},{"x":18.9,"s":"S","v":0.03},{"x":19.09,"s":"S","v":0.21},{"x":19.28,"s":"S","v":0.34},{"x":19.47,"s":"S","v":0.43},{"x":19.75,"s":"S","v":0.52},{"x":20.04,"s":"S","v":0.55},{"x":20.32,"s":"S","v":0.58},{"x":20.61,"s":"S","v":0.6},{"x":20.89,"s":"S","v":0.61},{"x":21.08,"s":"S","v":0.67},{"x":21.37,"s":"S","v":0.69},{"x":21.65,"s":"S","v":0.72},{"x":21.8,"s":"S","v":0.73},{"x":21.94,"s":"S","v":0.64},{"x":22.22,"s":"S","v":0.51},{"x":22.46,"s":"S","v":0.37},{"x":22.7,"s":"S","v":0.21},{"x":22.857,"s":"S","v":0.053}
],
"sto": [
{"x":0,"s":"K","v":89.5},{"x":0.14,"s":"K","v":90.3},{"x":0.28,"s":"K","v":93.8},{"x":0.42,"s":"K","v":91.5},{"x":0.57,"s":"K","v":92.6},{"x":0.71,"s":"K","v":95.4},{"x":0.85,"s":"K","v":92.8},{"x":0.99,"s":"K","v":74.1},{"x":1.13,"s":"K","v":69},{"x":1.29,"s":"K","v":65.6},{"x":1.44,"s":"K","v":74.9},{"x":1.58,"s":"K","v":72.3},{"x":1.72,"s":"K","v":66.4},{"x":1.89,"s":"K","v":58.5},{"x":2.03,"s":"K","v":65.6},{"x":2.17,"s":"K","v":75.9},{"x":2.31,"s":"K","v":91.3},{"x":2.45,"s":"K","v":86.9},{"x":2.59,"s":"K","v":83.8},{"x":2.73,"s":"K","v":86.9},{"x":2.87,"s":"K","v":81.8},{"x":3.02,"s":"K","v":77.9},{"x":3.18,"s":"K","v":74.9},{"x":3.32,"s":"K","v":83.6},{"x":3.46,"s":"K","v":86.2},{"x":3.61,"s":"K","v":85.1},{"x":3.75,"s":"K","v":77.9},{"x":3.89,"s":"K","v":63.8},{"x":4.03,"s":"K","v":35.6},{"x":4.18,"s":"K","v":24.1},{"x":4.32,"s":"K","v":10},{"x":4.46,"s":"K","v":13.3},{"x":4.6,"s":"K","v":9.2},{"x":4.74,"s":"K","v":11.8},{"x":4.88,"s":"K","v":10},{"x":5.02,"s":"K","v":9.7},{"x":5.16,"s":"K","v":4.1},{"x":5.31,"s":"K","v":1},{"x":5.45,"s":"K","v":0.5},{"x":5.59,"s":"K","v":4.9},{"x":5.73,"s":"K","v":6.2},{"x":5.87,"s":"K","v":6.2},{"x":6.01,"s":"K","v":10},{"x":6.15,"s":"K","v":17.7},{"x":6.3,"s":"K","v":26.2},{"x":6.44,"s":"K","v":30.3},{"x":6.58,"s":"K","v":29.2},{"x":6.72,"s":"K","v":29.7},{"x":6.86,"s":"K","v":35.6},{"x":7,"s":"K","v":56.2},{"x":7.14,"s":"K","v":76.7},{"x":7.29,"s":"K","v":81},{"x":7.43,"s":"K","v":75.9},{"x":7.57,"s":"K","v":76.7},{"x":7.71,"s":"K","v":79.2},{"x":7.85,"s":"K","v":80},{"x":7.99,"s":"K","v":72.8},{"x":8.13,"s":"K","v":57.4},{"x":8.28,"s":"K","v":45.9},{"x":8.32,"s":"K","v":40.8},{"x":8.46,"s":"K","v":50.3},{"x":8.61,"s":"K","v":67.2},{"x":8.75,"s":"K","v":81.8},{"x":8.89,"s":"K","v":86.2},{"x":9.03,"s":"K","v":86.2},{"x":9.17,"s":"K","v":81.8},{"x":9.31,"s":"K","v":85.6},{"x":9.45,"s":"K","v":85.6},{"x":9.59,"s":"K","v":90.3},{"x":9.74,"s":"K","v":89.5},{"x":9.88,"s":"K","v":82.6},{"x":10.02,"s":"K","v":81},{"x":10.16,"s":"K","v":78.7},{"x":10.3,"s":"K","v":82.6},{"x":10.44,"s":"K","v":83.6},{"x":10.58,"s":"K","v":85.1},{"x":10.73,"s":"K","v":85.6},{"x":10.89,"s":"K","v":73.3},{"x":11.03,"s":"K","v":70.3},{"x":11.17,"s":"K","v":68.2},{"x":11.31,"s":"K","v":71.5},{"x":11.45,"s":"K","v":55.4},{"x":11.59,"s":"K","v":51},{"x":11.73,"s":"K","v":44.6},{"x":11.88,"s":"K","v":34.4},{"x":12.02,"s":"K","v":31.8},{"x":12.16,"s":"K","v":25.9},{"x":12.3,"s":"K","v":36.9},{"x":12.44,"s":"K","v":32.3},{"x":12.58,"s":"K","v":22.8},{"x":12.72,"s":"K","v":12.6},{"x":12.87,"s":"K","v":8.7},{"x":13.01,"s":"K","v":11.3},{"x":13.15,"s":"K","v":11.3},{"x":13.29,"s":"K","v":11.3},{"x":13.43,"s":"K","v":6.7},{"x":13.57,"s":"K","v":15.1},{"x":13.71,"s":"K","v":19.7},{"x":13.85,"s":"K","v":19},{"x":14,"s":"K","v":18.2},{"x":14.14,"s":"K","v":10.8},{"x":14.28,"s":"K","v":11.8},{"x":14.48,"s":"K","v":7.9},{"x":14.62,"s":"K","v":8.2},{"x":14.76,"s":"K","v":4.9},{"x":14.9,"s":"K","v":3.6},{"x":15.05,"s":"K","v":6.7},{"x":15.19,"s":"K","v":10.8},{"x":15.33,"s":"K","v":9.7},{"x":15.48,"s":"K","v":6.2},{"x":15.62,"s":"K","v":3.1},{"x":15.76,"s":"K","v":6.2},{"x":15.9,"s":"K","v":13.3},{"x":16.05,"s":"K","v":28.7},{"x":16.19,"s":"K","v":33.1},{"x":16.33,"s":"K","v":29.2},{"x":16.47,"s":"K","v":20.3},{"x":16.62,"s":"K","v":12.6},{"x":16.76,"s":"K","v":11.8},{"x":16.88,"s":"K","v":4.9},{"x":17.04,"s":"K","v":29.2},{"x":17.19,"s":"K","v":51},{"x":17.3,"s":"K","v":86.2},{"x":17.44,"s":"K","v":77.9},{"x":17.59,"s":"K","v":67.2},{"x":17.73,"s":"K","v":60.5},{"x":17.87,"s":"K","v":58.7},{"x":18.01,"s":"K","v":58.7},{"x":18.16,"s":"K","v":70.3},{"x":18.3,"s":"K","v":78.5},{"x":18.47,"s":"K","v":83.1},{"x":18.61,"s":"K","v":72.8},{"x":18.75,"s":"K","v":74.9},{"x":18.9,"s":"K","v":84.4},{"x":19.04,"s":"K","v":90.3},{"x":19.16,"s":"K","v":92.8},{"x":19.31,"s":"K","v":85.1},{"x":19.45,"s":"K","v":80.5},{"x":19.59,"s":"K","v":69},{"x":19.73,"s":"K","v":61.3},{"x":19.88,"s":"K","v":50.3},{"x":20.02,"s":"K","v":50.3},{"x":20.16,"s":"K","v":54.4},{"x":20.3,"s":"K","v":64.6},{"x":20.45,"s":"K","v":70.3},{"x":20.59,"s":"K","v":69.7},{"x":20.73,"s":"K","v":68.5},{"x":20.87,"s":"K","v":65.6},{"x":21.02,"s":"K","v":72.3},{"x":21.16,"s":"K","v":71.5},{"x":21.3,"s":"K","v":62.6},{"x":21.44,"s":"K","v":54.9},{"x":21.59,"s":"K","v":60},{"x":21.73,"s":"K","v":69.7},{"x":21.87,"s":"K","v":50.3},{"x":22.02,"s":"K","v":25.4},{"x":22.16,"s":"K","v":8.7},{"x":22.3,"s":"K","v":11.3},{"x":22.44,"s":"K","v":14.4},{"x":22.59,"s":"K","v":8.7},{"x":22.73,"s":"K","v":4.9},{"x":22.857,"s":"K","v":2.24},
{"x":0,"s":"D","v":89.5},{"x":0.28,"s":"D","v":90.3},{"x":0.57,"s":"D","v":92.1},{"x":0.85,"s":"D","v":92.8},{"x":0.99,"s":"D","v":85.6},{"x":1.13,"s":"D","v":76.7},{"x":1.29,"s":"D","v":69.7},{"x":1.44,"s":"D","v":69.7},{"x":1.58,"s":"D","v":70.8},{"x":1.72,"s":"D","v":70.3},{"x":1.89,"s":"D","v":64.6},{"x":2.03,"s":"D","v":64.6},{"x":2.17,"s":"D","v":70.3},{"x":2.31,"s":"D","v":80.5},{"x":2.45,"s":"D","v":86.2},{"x":2.59,"s":"D","v":87.7},{"x":2.73,"s":"D","v":86.2},{"x":2.87,"s":"D","v":82.6},{"x":3.02,"s":"D","v":80.5},{"x":3.18,"s":"D","v":77.4},{"x":3.32,"s":"D","v":80},{"x":3.46,"s":"D","v":83.6},{"x":3.61,"s":"D","v":85.1},{"x":3.75,"s":"D","v":81},{"x":3.89,"s":"D","v":74.1},{"x":4.03,"s":"D","v":57.4},{"x":4.18,"s":"D","v":39.5},{"x":4.32,"s":"D","v":22.8},{"x":4.46,"s":"D","v":14.4},{"x":4.6,"s":"D","v":11.8},{"x":4.74,"s":"D","v":11.3},{"x":4.88,"s":"D","v":10.8},{"x":5.02,"s":"D","v":10.5},{"x":5.16,"s":"D","v":6.7},{"x":5.31,"s":"D","v":3.6},{"x":5.45,"s":"D","v":1},{"x":5.59,"s":"D","v":2.3},{"x":5.73,"s":"D","v":4.9},{"x":5.87,"s":"D","v":5.6},{"x":6.01,"s":"D","v":7.4},{"x":6.15,"s":"D","v":12.6},{"x":6.3,"s":"D","v":20.3},{"x":6.44,"s":"D","v":26.2},{"x":6.58,"s":"D","v":28.7},{"x":6.72,"s":"D","v":29.2},{"x":6.86,"s":"D","v":32.3},{"x":7,"s":"D","v":42.1},{"x":7.14,"s":"D","v":60},{"x":7.29,"s":"D","v":71.5},{"x":7.43,"s":"D","v":76.7},{"x":7.57,"s":"D","v":77.4},{"x":7.71,"s":"D","v":77.9},{"x":7.85,"s":"D","v":78.5},{"x":7.99,"s":"D","v":77.4},{"x":8.13,"s":"D","v":66.4},{"x":8.28,"s":"D","v":52.8},{"x":8.42,"s":"D","v":45.9},{"x":8.56,"s":"D","v":51},{"x":8.7,"s":"D","v":63.8},{"x":8.84,"s":"D","v":76.7},{"x":8.98,"s":"D","v":83.6},{"x":9.12,"s":"D","v":84.4},{"x":9.26,"s":"D","v":84.4},{"x":9.41,"s":"D","v":84.9},{"x":9.55,"s":"D","v":87.7},{"x":9.69,"s":"D","v":89.5},{"x":9.83,"s":"D","v":86.9},{"x":9.97,"s":"D","v":83.1},{"x":10.11,"s":"D","v":80.5},{"x":10.25,"s":"D","v":80.5},{"x":10.4,"s":"D","v":81.8},{"x":10.54,"s":"D","v":83.6},{"x":10.68,"s":"D","v":84.9},{"x":10.82,"s":"D","v":81},{"x":10.96,"s":"D","v":74.1},{"x":11.1,"s":"D","v":70.3},{"x":11.24,"s":"D","v":69},{"x":11.39,"s":"D","v":63.8},{"x":11.53,"s":"D","v":57.4},{"x":11.67,"s":"D","v":51},{"x":11.81,"s":"D","v":44.6},{"x":11.95,"s":"D","v":38.2},{"x":12.09,"s":"D","v":31.8},{"x":12.23,"s":"D","v":31},{"x":12.38,"s":"D","v":31},{"x":12.52,"s":"D","v":27.2},{"x":12.66,"s":"D","v":20.3},{"x":12.8,"s":"D","v":12.6},{"x":12.94,"s":"D","v":10.5},{"x":13.08,"s":"D","v":10.5},{"x":13.22,"s":"D","v":10.5},{"x":13.36,"s":"D","v":10},{"x":13.51,"s":"D","v":11.3},{"x":13.65,"s":"D","v":12.6},{"x":13.79,"s":"D","v":17.7},{"x":13.93,"s":"D","v":18.5},{"x":14.07,"s":"D","v":16.9},{"x":14.21,"s":"D","v":14.4},{"x":14.38,"s":"D","v":10},{"x":14.52,"s":"D","v":9.2},{"x":14.67,"s":"D","v":8.2},{"x":14.81,"s":"D","v":6.2},{"x":14.95,"s":"D","v":5.4},{"x":15.1,"s":"D","v":6.7},{"x":15.24,"s":"D","v":8.2},{"x":15.38,"s":"D","v":9.2},{"x":15.52,"s":"D","v":7.9},{"x":15.67,"s":"D","v":5.6},{"x":15.81,"s":"D","v":5.6},{"x":15.95,"s":"D","v":10},{"x":16.09,"s":"D","v":19},{"x":16.24,"s":"D","v":26.7},{"x":16.38,"s":"D","v":29.7},{"x":16.52,"s":"D","v":25.4},{"x":16.66,"s":"D","v":19},{"x":16.81,"s":"D","v":12.6},{"x":16.92,"s":"D","v":9.2},{"x":17.06,"s":"D","v":20.3},{"x":17.19,"s":"D","v":31.8},{"x":17.3,"s":"D","v":61.3},{"x":17.44,"s":"D","v":74.1},{"x":17.59,"s":"D","v":76.7},{"x":17.73,"s":"D","v":67.7},{"x":17.87,"s":"D","v":61.3},{"x":18.01,"s":"D","v":59.5},{"x":18.16,"s":"D","v":63.8},{"x":18.3,"s":"D","v":71.5},{"x":18.47,"s":"D","v":77.9},{"x":18.61,"s":"D","v":77.9},{"x":18.75,"s":"D","v":77.9},{"x":18.9,"s":"D","v":80},{"x":19.04,"s":"D","v":86.2},{"x":19.18,"s":"D","v":90.3},{"x":19.33,"s":"D","v":88.2},{"x":19.47,"s":"D","v":83.1},{"x":19.61,"s":"D","v":75.4},{"x":19.75,"s":"D","v":66.4},{"x":19.9,"s":"D","v":58.7},{"x":20.04,"s":"D","v":53.6},{"x":20.18,"s":"D","v":51.8},{"x":20.32,"s":"D","v":57.4},{"x":20.47,"s":"D","v":63.8},{"x":20.61,"s":"D","v":68.2},{"x":20.75,"s":"D","v":68.2},{"x":20.89,"s":"D","v":67.2},{"x":21.04,"s":"D","v":68.2},{"x":21.18,"s":"D","v":69},{"x":21.32,"s":"D","v":66.4},{"x":21.46,"s":"D","v":60},{"x":21.61,"s":"D","v":61.3},{"x":21.75,"s":"D","v":61.3},{"x":21.89,"s":"D","v":54.9},{"x":22.03,"s":"D","v":47.2},{"x":22.18,"s":"D","v":26.7},{"x":22.32,"s":"D","v":15.1},{"x":22.46,"s":"D","v":11.8},{"x":22.6,"s":"D","v":11.3},{"x":22.75,"s":"D","v":8.7},{"x":22.857,"s":"D","v":5.52}
],
"adx": [
{"x":0,"s":"A","v":26.8},{"x":0.28,"s":"A","v":28.9},{"x":0.57,"s":"A","v":33.6},{"x":0.85,"s":"A","v":39.2},{"x":0.99,"s":"A","v":38.6},{"x":1.27,"s":"A","v":40.4},{"x":1.56,"s":"A","v":40.4},{"x":1.7,"s":"A","v":40.3},{"x":1.84,"s":"A","v":38.9},{"x":2.12,"s":"A","v":38.3},{"x":2.4,"s":"A","v":38.6},{"x":2.69,"s":"A","v":39.4},{"x":2.97,"s":"A","v":38},{"x":3.25,"s":"A","v":37.1},{"x":3.53,"s":"A","v":38.3},{"x":3.68,"s":"A","v":37.7},{"x":3.96,"s":"A","v":34.2},{"x":4.24,"s":"A","v":31.2},{"x":4.52,"s":"A","v":28.1},{"x":4.81,"s":"A","v":25.4},{"x":4.95,"s":"A","v":24.4},{"x":5.23,"s":"A","v":24.4},{"x":5.51,"s":"A","v":24.2},{"x":5.8,"s":"A","v":23.5},{"x":6.08,"s":"A","v":23.3},{"x":6.36,"s":"A","v":21.5},{"x":6.64,"s":"A","v":20.1},{"x":6.93,"s":"A","v":19.5},{"x":7.21,"s":"A","v":20.5},{"x":7.49,"s":"A","v":20.5},{"x":7.78,"s":"A","v":21.5},{"x":7.92,"s":"A","v":21.3},{"x":8.2,"s":"A","v":18.9},{"x":8.48,"s":"A","v":17.8},{"x":8.77,"s":"A","v":20.1},{"x":9.05,"s":"A","v":21.6},{"x":9.33,"s":"A","v":23.3},{"x":9.61,"s":"A","v":25},{"x":9.9,"s":"A","v":24.4},{"x":10.18,"s":"A","v":24.4},{"x":10.46,"s":"A","v":24.8},{"x":10.74,"s":"A","v":25.1},{"x":11.03,"s":"A","v":24.7},{"x":11.31,"s":"A","v":23.7},{"x":11.59,"s":"A","v":21.5},{"x":11.88,"s":"A","v":20.1},{"x":12.16,"s":"A","v":21.2},{"x":12.44,"s":"A","v":22.1},{"x":12.72,"s":"A","v":24},{"x":12.87,"s":"A","v":25.4},{"x":13.01,"s":"A","v":24.4},{"x":13.29,"s":"A","v":24.8},{"x":13.57,"s":"A","v":23.9},{"x":13.85,"s":"A","v":23},{"x":14.14,"s":"A","v":25.4},{"x":14.33,"s":"A","v":26.8},{"x":14.52,"s":"A","v":28.3},{"x":14.81,"s":"A","v":31.5},{"x":15.1,"s":"A","v":33.6},{"x":15.38,"s":"A","v":35.7},{"x":15.67,"s":"A","v":36.6},{"x":15.81,"s":"A","v":36.4},{"x":15.95,"s":"A","v":34.8},{"x":16.24,"s":"A","v":33.1},{"x":16.52,"s":"A","v":32.6},{"x":16.81,"s":"A","v":32.4},{"x":16.95,"s":"A","v":30.7},{"x":17.23,"s":"A","v":28.7},{"x":17.52,"s":"A","v":26},{"x":17.8,"s":"A","v":22.8},{"x":18.09,"s":"A","v":21.5},{"x":18.52,"s":"A","v":21.5},{"x":18.66,"s":"A","v":21.3},{"x":18.8,"s":"A","v":22.4},{"x":19.09,"s":"A","v":27.4},{"x":19.37,"s":"A","v":29.8},{"x":19.66,"s":"A","v":30.3},{"x":19.94,"s":"A","v":29.2},{"x":20.37,"s":"A","v":29.2},{"x":20.66,"s":"A","v":28.2},{"x":20.8,"s":"A","v":27.6},{"x":20.94,"s":"A","v":27.7},{"x":21.08,"s":"A","v":28.7},{"x":21.37,"s":"A","v":27.6},{"x":21.65,"s":"A","v":27.5},{"x":21.94,"s":"A","v":25.4},{"x":22.22,"s":"A","v":23.7},{"x":22.51,"s":"A","v":22.2},{"x":22.65,"s":"A","v":21.5},{"x":22.857,"s":"A","v":21.46},
{"x":0,"s":"P","v":29.8},{"x":0.14,"s":"P","v":30.7},{"x":0.28,"s":"P","v":33},{"x":0.38,"s":"P","v":36.5},{"x":0.47,"s":"P","v":43.6},{"x":0.61,"s":"P","v":40.4},{"x":0.71,"s":"P","v":50.6},{"x":0.85,"s":"P","v":52.9},{"x":0.94,"s":"P","v":46.5},{"x":1.04,"s":"P","v":40},{"x":1.18,"s":"P","v":49.6},{"x":1.32,"s":"P","v":45.9},{"x":1.46,"s":"P","v":43},{"x":1.6,"s":"P","v":42.4},{"x":1.74,"s":"P","v":39.1},{"x":1.89,"s":"P","v":34.8},{"x":2.03,"s":"P","v":40.4},{"x":2.17,"s":"P","v":41.1},{"x":2.31,"s":"P","v":41.1},{"x":2.45,"s":"P","v":39.8},{"x":2.59,"s":"P","v":37.6},{"x":2.73,"s":"P","v":36.5},{"x":2.87,"s":"P","v":33.6},{"x":3.02,"s":"P","v":30.7},{"x":3.18,"s":"P","v":28},{"x":3.32,"s":"P","v":35.7},{"x":3.46,"s":"P","v":37.1},{"x":3.61,"s":"P","v":33.6},{"x":3.75,"s":"P","v":30.1},{"x":3.89,"s":"P","v":27.1},{"x":4.03,"s":"P","v":24.4},{"x":4.18,"s":"P","v":24},{"x":4.32,"s":"P","v":23},{"x":4.46,"s":"P","v":21.9},{"x":4.6,"s":"P","v":22.4},{"x":4.74,"s":"P","v":21.3},{"x":4.88,"s":"P","v":20.7},{"x":5.02,"s":"P","v":18.3},{"x":5.16,"s":"P","v":18},{"x":5.31,"s":"P","v":17.8},{"x":5.45,"s":"P","v":18.1},{"x":5.59,"s":"P","v":19.3},{"x":5.73,"s":"P","v":18.1},{"x":5.87,"s":"P","v":17.2},{"x":6.01,"s":"P","v":16},{"x":6.15,"s":"P","v":20.7},{"x":6.3,"s":"P","v":19.9},{"x":6.44,"s":"P","v":18.6},{"x":6.58,"s":"P","v":17.8},{"x":6.72,"s":"P","v":17.2},{"x":6.91,"s":"P","v":16.2},{"x":7.02,"s":"P","v":32.4},{"x":7.16,"s":"P","v":31},{"x":7.3,"s":"P","v":29.5},{"x":7.45,"s":"P","v":28.7},{"x":7.59,"s":"P","v":29.5},{"x":7.73,"s":"P","v":30.3},{"x":7.87,"s":"P","v":28.7},{"x":8.01,"s":"P","v":24.4},{"x":8.15,"s":"P","v":23.6},{"x":8.29,"s":"P","v":24},{"x":8.44,"s":"P","v":28},{"x":8.58,"s":"P","v":37.3},{"x":8.72,"s":"P","v":37.3},{"x":8.86,"s":"P","v":32.4},{"x":9,"s":"P","v":37.1},{"x":9.14,"s":"P","v":35.1},{"x":9.28,"s":"P","v":33.4},{"x":9.43,"s":"P","v":34.2},{"x":9.57,"s":"P","v":35.1},{"x":9.71,"s":"P","v":32.2},{"x":9.85,"s":"P","v":29.5},{"x":9.99,"s":"P","v":28.7},{"x":10.13,"s":"P","v":26},{"x":10.27,"s":"P","v":24.4},{"x":10.41,"s":"P","v":26.6},{"x":10.56,"s":"P","v":25.6},{"x":10.7,"s":"P","v":24.8},{"x":10.84,"s":"P","v":23.3},{"x":10.98,"s":"P","v":21.9},{"x":11.12,"s":"P","v":23},{"x":11.26,"s":"P","v":21.3},{"x":11.4,"s":"P","v":19.8},{"x":11.55,"s":"P","v":20.1},{"x":11.69,"s":"P","v":20.1},{"x":11.83,"s":"P","v":18.6},{"x":11.97,"s":"P","v":16.2},{"x":12.11,"s":"P","v":15.4},{"x":12.25,"s":"P","v":14.8},{"x":12.39,"s":"P","v":14.2},{"x":12.54,"s":"P","v":13.7},{"x":12.68,"s":"P","v":13.1},{"x":12.82,"s":"P","v":12.7},{"x":12.96,"s":"P","v":19.5},{"x":13.1,"s":"P","v":17.2},{"x":13.24,"s":"P","v":16.6},{"x":13.38,"s":"P","v":16.6},{"x":13.53,"s":"P","v":18.6},{"x":13.67,"s":"P","v":19.8},{"x":13.81,"s":"P","v":19.3},{"x":13.95,"s":"P","v":18.1},{"x":14.09,"s":"P","v":15.4},{"x":14.23,"s":"P","v":13.9},{"x":14.43,"s":"P","v":13.3},{"x":14.62,"s":"P","v":13},{"x":14.76,"s":"P","v":12.1},{"x":14.9,"s":"P","v":11.3},{"x":15.05,"s":"P","v":14.5},{"x":15.19,"s":"P","v":13.7},{"x":15.33,"s":"P","v":13.1},{"x":15.48,"s":"P","v":12.5},{"x":15.62,"s":"P","v":12.5},{"x":15.76,"s":"P","v":14.2},{"x":15.9,"s":"P","v":17.4},{"x":16.05,"s":"P","v":23},{"x":16.19,"s":"P","v":21.3},{"x":16.33,"s":"P","v":20.1},{"x":16.47,"s":"P","v":19.3},{"x":16.62,"s":"P","v":18.6},{"x":16.76,"s":"P","v":17.8},{"x":16.88,"s":"P","v":17.2},{"x":17,"s":"P","v":28.9},{"x":17.14,"s":"P","v":31.2},{"x":17.28,"s":"P","v":30.1},{"x":17.42,"s":"P","v":28.7},{"x":17.57,"s":"P","v":27.1},{"x":17.71,"s":"P","v":25.4},{"x":17.85,"s":"P","v":31},{"x":17.99,"s":"P","v":29.8},{"x":18.14,"s":"P","v":35.7},{"x":18.28,"s":"P","v":34.2},{"x":18.42,"s":"P","v":32.4},{"x":18.56,"s":"P","v":31},{"x":18.71,"s":"P","v":34.2},{"x":18.85,"s":"P","v":40},{"x":19.04,"s":"P","v":43.2},{"x":19.18,"s":"P","v":41.6},{"x":19.33,"s":"P","v":36.9},{"x":19.47,"s":"P","v":35.7},{"x":19.61,"s":"P","v":32.8},{"x":19.75,"s":"P","v":31.5},{"x":19.9,"s":"P","v":28.9},{"x":20.04,"s":"P","v":30.3},{"x":20.18,"s":"P","v":29.5},{"x":20.32,"s":"P","v":29.1},{"x":20.47,"s":"P","v":28},{"x":20.61,"s":"P","v":28},{"x":20.75,"s":"P","v":25},{"x":20.89,"s":"P","v":33},{"x":21.04,"s":"P","v":30.7},{"x":21.18,"s":"P","v":33},{"x":21.32,"s":"P","v":30.1},{"x":21.46,"s":"P","v":28.3},{"x":21.61,"s":"P","v":30.1},{"x":21.75,"s":"P","v":28.9},{"x":21.89,"s":"P","v":25.6},{"x":22.03,"s":"P","v":23.3},{"x":22.18,"s":"P","v":24.2},{"x":22.32,"s":"P","v":24},{"x":22.46,"s":"P","v":23.3},{"x":22.6,"s":"P","v":21.9},{"x":22.75,"s":"P","v":20.9},{"x":22.857,"s":"P","v":19.82},
{"x":0,"s":"N","v":15.1},{"x":0.14,"s":"N","v":14.2},{"x":0.28,"s":"N","v":13.1},{"x":0.42,"s":"N","v":11.1},{"x":0.57,"s":"N","v":10.1},{"x":0.71,"s":"N","v":8},{"x":0.85,"s":"N","v":6.9},{"x":0.99,"s":"N","v":21.3},{"x":1.13,"s":"N","v":16.6},{"x":1.27,"s":"N","v":14.8},{"x":1.41,"s":"N","v":18.9},{"x":1.56,"s":"N","v":17.8},{"x":1.7,"s":"N","v":18.8},{"x":1.84,"s":"N","v":23.6},{"x":1.98,"s":"N","v":19.5},{"x":2.12,"s":"N","v":18.3},{"x":2.26,"s":"N","v":17.4},{"x":2.4,"s":"N","v":16.2},{"x":2.54,"s":"N","v":15.3},{"x":2.69,"s":"N","v":14.6},{"x":2.83,"s":"N","v":17.2},{"x":2.97,"s":"N","v":16.6},{"x":3.11,"s":"N","v":17.2},{"x":3.25,"s":"N","v":15.8},{"x":3.39,"s":"N","v":14.2},{"x":3.53,"s":"N","v":12.7},{"x":3.68,"s":"N","v":19.8},{"x":3.82,"s":"N","v":20.2},{"x":3.96,"s":"N","v":20.5},{"x":4.1,"s":"N","v":18.9},{"x":4.24,"s":"N","v":17.4},{"x":4.38,"s":"N","v":19.3},{"x":4.52,"s":"N","v":18.3},{"x":4.67,"s":"N","v":18.7},{"x":4.81,"s":"N","v":18.3},{"x":4.95,"s":"N","v":26.8},{"x":5.09,"s":"N","v":28.1},{"x":5.23,"s":"N","v":29.8},{"x":5.37,"s":"N","v":29.1},{"x":5.51,"s":"N","v":28.1},{"x":5.66,"s":"N","v":26.6},{"x":5.8,"s":"N","v":25.6},{"x":5.94,"s":"N","v":27.7},{"x":6.08,"s":"N","v":25.4},{"x":6.22,"s":"N","v":23},{"x":6.36,"s":"N","v":22.8},{"x":6.5,"s":"N","v":22.1},{"x":6.64,"s":"N","v":21.6},{"x":6.79,"s":"N","v":22.8},{"x":6.88,"s":"N","v":23.6},{"x":7.02,"s":"N","v":19.8},{"x":7.16,"s":"N","v":18.3},{"x":7.3,"s":"N","v":18.6},{"x":7.45,"s":"N","v":18.1},{"x":7.59,"s":"N","v":17.2},{"x":7.73,"s":"N","v":16.6},{"x":7.87,"s":"N","v":17.2},{"x":8.01,"s":"N","v":25.6},{"x":8.15,"s":"N","v":24.8},{"x":8.29,"s":"N","v":24},{"x":8.44,"s":"N","v":22.1},{"x":8.58,"s":"N","v":18.3},{"x":8.72,"s":"N","v":16.9},{"x":8.86,"s":"N","v":18.9},{"x":9,"s":"N","v":16.9},{"x":9.14,"s":"N","v":17.4},{"x":9.28,"s":"N","v":16.6},{"x":9.43,"s":"N","v":16},{"x":9.57,"s":"N","v":15.4},{"x":9.71,"s":"N","v":20.9},{"x":9.85,"s":"N","v":19.3},{"x":9.99,"s":"N","v":16.6},{"x":10.13,"s":"N","v":15.4},{"x":10.27,"s":"N","v":14.8},{"x":10.41,"s":"N","v":14},{"x":10.56,"s":"N","v":13.7},{"x":10.7,"s":"N","v":14.2},{"x":10.84,"s":"N","v":13.9},{"x":10.98,"s":"N","v":15.4},{"x":11.12,"s":"N","v":14},{"x":11.26,"s":"N","v":14},{"x":11.4,"s":"N","v":17.8},{"x":11.55,"s":"N","v":17.4},{"x":11.69,"s":"N","v":17.4},{"x":11.83,"s":"N","v":20.1},{"x":11.97,"s":"N","v":28},{"x":12.11,"s":"N","v":26.6},{"x":12.25,"s":"N","v":25.6},{"x":12.39,"s":"N","v":26.6},{"x":12.54,"s":"N","v":27.7},{"x":12.68,"s":"N","v":29.5},{"x":12.82,"s":"N","v":29.1},{"x":12.96,"s":"N","v":26},{"x":13.1,"s":"N","v":28.7},{"x":13.24,"s":"N","v":28},{"x":13.38,"s":"N","v":27.1},{"x":13.53,"s":"N","v":26.3},{"x":13.67,"s":"N","v":25.4},{"x":13.81,"s":"N","v":27.4},{"x":13.95,"s":"N","v":32.4},{"x":14.09,"s":"N","v":35.9},{"x":14.23,"s":"N","v":34.2},{"x":14.38,"s":"N","v":33.8},{"x":14.52,"s":"N","v":33.6},{"x":14.71,"s":"N","v":37.1},{"x":14.86,"s":"N","v":35.7},{"x":15,"s":"N","v":34.2},{"x":15.14,"s":"N","v":35.3},{"x":15.29,"s":"N","v":36.3},{"x":15.43,"s":"N","v":36.9},{"x":15.57,"s":"N","v":36.2},{"x":15.71,"s":"N","v":34.2},{"x":15.86,"s":"N","v":32.2},{"x":16,"s":"N","v":30.1},{"x":16.14,"s":"N","v":33},{"x":16.28,"s":"N","v":34.2},{"x":16.43,"s":"N","v":35},{"x":16.57,"s":"N","v":34.5},{"x":16.71,"s":"N","v":33.8},{"x":16.88,"s":"N","v":34.5},{"x":17,"s":"N","v":28.9},{"x":17.14,"s":"N","v":24.2},{"x":17.28,"s":"N","v":22.8},{"x":17.42,"s":"N","v":22.8},{"x":17.57,"s":"N","v":26.6},{"x":17.71,"s":"N","v":26.8},{"x":17.85,"s":"N","v":24.8},{"x":17.99,"s":"N","v":26},{"x":18.14,"s":"N","v":22.5},{"x":18.28,"s":"N","v":20.7},{"x":18.42,"s":"N","v":22.5},{"x":18.56,"s":"N","v":21.9},{"x":18.71,"s":"N","v":19.5},{"x":18.85,"s":"N","v":15.4},{"x":18.99,"s":"N","v":13.7},{"x":19.14,"s":"N","v":12.5},{"x":19.28,"s":"N","v":13.7},{"x":19.42,"s":"N","v":13.1},{"x":19.56,"s":"N","v":17.2},{"x":19.71,"s":"N","v":16.9},{"x":19.85,"s":"N","v":19.5},{"x":19.99,"s":"N","v":18.1},{"x":20.13,"s":"N","v":16.6},{"x":20.28,"s":"N","v":15.4},{"x":20.42,"s":"N","v":17.4},{"x":20.56,"s":"N","v":16.9},{"x":20.7,"s":"N","v":20.1},{"x":20.85,"s":"N","v":17.2},{"x":20.99,"s":"N","v":15.4},{"x":21.13,"s":"N","v":14.2},{"x":21.27,"s":"N","v":19.5},{"x":21.42,"s":"N","v":18.3},{"x":21.56,"s":"N","v":17.4},{"x":21.7,"s":"N","v":17.4},{"x":21.84,"s":"N","v":26.3},{"x":21.99,"s":"N","v":31.2},{"x":22.13,"s":"N","v":30.3},{"x":22.27,"s":"N","v":29.5},{"x":22.41,"s":"N","v":28.7},{"x":22.56,"s":"N","v":28},{"x":22.7,"s":"N","v":31.2},{"x":22.857,"s":"N","v":31.94}
]
},
"vconcat": [
{
"width": 1193, "height": 29,
"view": {"stroke": null, "fill": null},
"data": {"values": [{}]},
"layer": [
{"mark": {"type": "text", "align": "left", "baseline": "middle", "font": "Liberation Sans", "fontSize": 13, "fontWeight": "bold", "color": "#000"},
 "encoding": {"x": {"datum": -0.07, "type": "quantitative", "scale": {"domain": [-0.054, 28.17], "nice": false, "zero": false}, "axis": null},
  "y": {"datum": 0.6, "type": "quantitative", "scale": {"domain": [0, 1], "nice": false}, "axis": null}, "text": {"value": "$VIX"}}},
{"mark": {"type": "text", "align": "left", "baseline": "middle", "font": "Liberation Sans", "fontSize": 11, "color": "#000"},
 "encoding": {"x": {"datum": 0.68}, "y": {"datum": 0.58}, "text": {"value": "Volatility Index - New Methodology INDX"}}},
{"mark": {"type": "text", "align": "left", "baseline": "middle", "font": "Liberation Sans", "fontSize": 10, "color": "#000"},
 "encoding": {"x": {"datum": -0.07}, "y": {"datum": 0.17}, "text": {"value": "3-Feb-2015"}}},
{"mark": {"type": "text", "align": "right", "baseline": "middle", "font": "DejaVu Sans", "fontSize": 10, "color": "#444"},
 "encoding": {"x": {"datum": 28.17}, "y": {"datum": 0.6}, "text": {"value": "©StockCharts.com"}}},
{"mark": {"type": "text", "align": "left", "baseline": "middle", "font": "Liberation Sans", "fontSize": 11, "fontWeight": "bold", "color": "#000"},
 "encoding": {"x": {"datum": 19.67}, "y": {"datum": 0.21}, "text": {"value": "Open"}}},
{"mark": {"type": "text", "align": "left", "baseline": "middle", "font": "Liberation Sans", "fontSize": 10.5, "color": "#000"},
 "encoding": {"x": {"datum": 20.43}, "y": {"datum": 0.21}, "text": {"value": "18.41"}}},
{"mark": {"type": "text", "align": "left", "baseline": "middle", "font": "Liberation Sans", "fontSize": 11, "fontWeight": "bold", "color": "#000"},
 "encoding": {"x": {"datum": 21.17}, "y": {"datum": 0.21}, "text": {"value": "High"}}},
{"mark": {"type": "text", "align": "left", "baseline": "middle", "font": "Liberation Sans", "fontSize": 10.5, "color": "#000"},
 "encoding": {"x": {"datum": 21.9}, "y": {"datum": 0.21}, "text": {"value": "18.89"}}},
{"mark": {"type": "text", "align": "left", "baseline": "middle", "font": "Liberation Sans", "fontSize": 11, "fontWeight": "bold", "color": "#000"},
 "encoding": {"x": {"datum": 22.62}, "y": {"datum": 0.21}, "text": {"value": "Low"}}},
{"mark": {"type": "text", "align": "left", "baseline": "middle", "font": "Liberation Sans", "fontSize": 10.5, "color": "#000"},
 "encoding": {"x": {"datum": 23.29}, "y": {"datum": 0.21}, "text": {"value": "17.20"}}},
{"mark": {"type": "text", "align": "left", "baseline": "middle", "font": "Liberation Sans", "fontSize": 11, "fontWeight": "bold", "color": "#000"},
 "encoding": {"x": {"datum": 24.03}, "y": {"datum": 0.21}, "text": {"value": "Close"}}},
{"mark": {"type": "text", "align": "left", "baseline": "middle", "font": "Liberation Sans", "fontSize": 10.5, "color": "#000"},
 "encoding": {"x": {"datum": 24.88}, "y": {"datum": 0.21}, "text": {"value": "17.33"}}},
{"mark": {"type": "text", "align": "left", "baseline": "middle", "font": "Liberation Sans", "fontSize": 11, "fontWeight": "bold", "color": "#000"},
 "encoding": {"x": {"datum": 25.64}, "y": {"datum": 0.21}, "text": {"value": "Chg"}}},
{"mark": {"type": "text", "align": "left", "baseline": "middle", "font": "Liberation Sans", "fontSize": 10.5, "color": "#000"},
 "encoding": {"x": {"datum": 26.28}, "y": {"datum": 0.21}, "text": {"value": "-2.10 (-10.81%)"}}},
{"mark": {"type": "text", "align": "left", "baseline": "middle", "font": "DejaVu Sans", "fontSize": 8, "color": "#a0102a"},
 "encoding": {"x": {"datum": 28.03}, "y": {"datum": 0.22}, "text": {"value": "▼"}}}
]
},
{
"width": 1193, "height": 145,
"layer": [
{"data": {"values": [{}]}, "mark": {"type": "rule", "color": "#687068", "strokeWidth": 1.3},
 "encoding": {"x": {"datum": -0.054}, "x2": {"datum": 28.17}, "y": {"datum": 70, "type": "quantitative", "scale": {"domain": [-5.9, 107.2], "nice": false, "zero": false},
  "axis": {"orient": "right", "values": [0,10,20,30,40,50,60,70,80,90,100], "labels": false, "title": null, "domain": false, "tickSize": 3}}}},
{"data": {"values": [{}]}, "mark": {"type": "rule", "color": "#687068", "strokeWidth": 1.3},
 "encoding": {"x": {"datum": -0.054}, "x2": {"datum": 28.17}, "y": {"datum": 30}}},
{"data": {"values": [{}]}, "mark": {"type": "rule", "color": "#687068", "strokeWidth": 1, "strokeDash": [9, 3, 2, 3]},
 "encoding": {"x": {"datum": -0.054}, "x2": {"datum": 28.17}, "y": {"datum": 50}}},
{"data": {"values": [{"x":0.39,"v":70,"g":1},{"x":0.43,"v":73.8,"g":1},{"x":0.62,"v":76.4,"g":1},{"x":0.75,"v":83.4,"g":1},{"x":0.9,"v":83.4,"g":1},{"x":0.99,"v":70,"g":1},{"x":19.02,"v":70,"g":2},{"x":19.1,"v":72,"g":2},{"x":19.17,"v":70,"g":2}]},
 "mark": {"type": "area", "color": "#5e7062"},
 "encoding": {"x": {"field": "x", "type": "quantitative", "scale": {"domain": [-0.054, 28.17], "nice": false, "zero": false},
   "axis": {"values": [0,1,2,3,4,5,6,7,8,9,10,11,12,13,14,15,16,17,18,19,20,21,22,23,24,25,26,27,28], "labels": false, "ticks": false, "domain": false, "grid": true, "title": null}},
  "y": {"field": "v", "type": "quantitative"}, "y2": {"datum": 70}, "detail": {"field": "g", "type": "nominal"}}},
{"data": {"name": "rsi"}, "mark": {"type": "line", "color": "#1c281c", "strokeWidth": 1},
 "encoding": {"x": {"field": "x", "type": "quantitative"}, "y": {"field": "v", "type": "quantitative"}}},
{"data": {"values": [{}]}, "mark": {"type": "text", "align": "left", "baseline": "middle", "font": "DejaVu Sans", "fontSize": 8, "color": "#4a5e4a"},
 "encoding": {"x": {"datum": -0.03}, "y": {"datum": 101.7}, "text": {"value": "▲"}}},
{"data": {"values": [{}]}, "mark": {"type": "text", "align": "left", "baseline": "middle", "font": "DejaVu Sans Mono", "fontSize": 10, "color": "#000"},
 "encoding": {"x": {"datum": 0.158}, "y": {"datum": 101.7}, "text": {"value": "RSI(14) 38.25"}}},
{"data": {"values": [{"v":90,"t":"90"},{"v":70,"t":"70"},{"v":50,"t":"50"},{"v":30,"t":"30"},{"v":10,"t":"10"}]},
 "mark": {"type": "text", "align": "left", "baseline": "middle", "font": "Liberation Sans", "fontSize": 11, "color": "#333333"},
 "encoding": {"x": {"datum": 28.29}, "y": {"field": "v", "type": "quantitative"}, "text": {"field": "t"}}},
{"data": {"values": [{"v":38.25}]},
 "mark": {"type": "point", "shape": "M-1,0L-0.76,-0.35L1,-0.35L1,0.35L-0.76,0.35Z", "size": 1296, "filled": true, "fill": "#ffffff", "stroke": "#000000", "strokeWidth": 1, "opacity": 1},
 "encoding": {"x": {"datum": 28.56}, "y": {"field": "v", "type": "quantitative"}}},
{"data": {"values": [{"v":38.25,"t":"38.25"}]},
 "mark": {"type": "text", "align": "center", "baseline": "middle", "font": "Liberation Sans", "fontSize": 11, "color": "#000"},
 "encoding": {"x": {"datum": 28.61}, "y": {"field": "v", "type": "quantitative"}, "text": {"field": "t"}}}
]
},
{
"width": 1193, "height": 414,
"layer": [
{"data": {"name": "bb"}, "mark": {"type": "area", "color": "#c6cbd2", "clip": true},
 "encoding": {"x": {"field": "x", "type": "quantitative", "scale": {"domain": [-0.054, 28.17], "nice": false, "zero": false},
   "axis": {"values": [0,1,2,3,4,5,6,7,8,9,10,11,12,13,14,15,16,17,18,19,20,21,22,23,24,25,26,27,28],
    "labelExpr": "['31','2015','5','6','7','8','9','12','13','14','15','16','20','21','22','23','26','27','28','29','30','Feb','3','4','5','6','9','10','11'][datum.value]",
    "labelFontWeight": {"condition": {"test": "datum.value == 1 || datum.value == 21", "value": "bold"}, "value": "normal"},
    "labelOverlap": false, "ticks": false, "domain": false, "grid": true, "title": null, "labelPadding": 3, "labelFontSize": 11, "labelColor": "#111"}},
  "y": {"field": "u", "type": "quantitative", "scale": {"type": "log", "domain": [15.41, 23.63], "nice": false, "zero": false},
   "axis": {"orient": "right", "values": [15.5,16,16.5,17,17.5,18,18.5,19,19.5,20,20.5,21,21.5,22,22.5,23,23.5], "labelExpr": "datum.value == 19 || datum.value == 18.5 || datum.value == 17 ? '' : datum.label", "format": ".1f", "labelOverlap": false, "title": null, "domain": false, "tickSize": 3, "labelPadding": 2}},
  "y2": {"field": "l"}}},
{"data": {"name": "bb"}, "mark": {"type": "line", "color": "#a9abb2", "strokeWidth": 1, "clip": true}, "encoding": {"x": {"field": "x", "type": "quantitative"}, "y": {"field": "u", "type": "quantitative"}}},
{"data": {"name": "bb"}, "mark": {"type": "line", "color": "#a9abb2", "strokeWidth": 1, "clip": true}, "encoding": {"x": {"field": "x", "type": "quantitative"}, "y": {"field": "l", "type": "quantitative"}}},
{"data": {"name": "bb"}, "mark": {"type": "line", "color": "#a4a4aa", "strokeWidth": 1, "strokeDash": [2, 2], "clip": true}, "encoding": {"x": {"field": "x", "type": "quantitative"}, "y": {"field": "m", "type": "quantitative"}}},
{"data": {"values": [{}]}, "mark": {"type": "rect", "color": "#cdd21c", "opacity": 0.92},
 "encoding": {"x": {"datum": 19.44}, "x2": {"datum": 23.15}, "y": {"datum": 19.2}, "y2": {"datum": 18.39}}},
{"data": {"name": "ma"}, "transform": [{"filter": "datum.s == 'MA200'"}], "mark": {"type": "line", "color": "#9933ff", "strokeWidth": 1.1, "clip": true}, "encoding": {"x": {"field": "x", "type": "quantitative"}, "y": {"field": "v", "type": "quantitative"}}},
{"data": {"name": "ma"}, "transform": [{"filter": "datum.s == 'MA100'"}], "mark": {"type": "line", "color": "#ff00ff", "strokeWidth": 1.1, "clip": true}, "encoding": {"x": {"field": "x", "type": "quantitative"}, "y": {"field": "v", "type": "quantitative"}}},
{"data": {"name": "ma"}, "transform": [{"filter": "datum.s == 'MA50'"}], "mark": {"type": "line", "color": "#3a5a42", "strokeWidth": 1.1, "clip": true}, "encoding": {"x": {"field": "x", "type": "quantitative"}, "y": {"field": "v", "type": "quantitative"}}},
{"data": {"name": "ma"}, "transform": [{"filter": "datum.s == 'MA10'"}], "mark": {"type": "line", "color": "#cc1f45", "strokeWidth": 1.1, "clip": true}, "encoding": {"x": {"field": "x", "type": "quantitative"}, "y": {"field": "v", "type": "quantitative"}}},
{"data": {"name": "candles"}, "transform": [{"window": [{"op": "lag", "field": "c", "as": "pc"}], "sort": [{"field": "x", "order": "ascending"}]}],
 "mark": {"type": "rule", "strokeWidth": 1},
 "encoding": {"x": {"field": "x", "type": "quantitative"}, "y": {"field": "l", "type": "quantitative"}, "y2": {"field": "h"},
  "color": {"condition": {"test": "datum.pc != null && datum.c < datum.pc", "value": "#c4163c"}, "value": "#000000"}}},
{"data": {"name": "candles"}, "transform": [{"window": [{"op": "lag", "field": "c", "as": "pc"}], "sort": [{"field": "x", "order": "ascending"}]}],
 "mark": {"type": "bar", "width": 4.6, "strokeWidth": 1},
 "encoding": {"x": {"field": "x", "type": "quantitative"}, "y": {"field": "o", "type": "quantitative"}, "y2": {"field": "c"},
  "fill": {"condition": [{"test": "datum.c > datum.o", "value": "#ffffff"}, {"test": "datum.pc != null && datum.c < datum.pc", "value": "#c4163c"}], "value": "#000000"},
  "stroke": {"condition": {"test": "datum.pc != null && datum.c < datum.pc", "value": "#c4163c"}, "value": "#000000"}}},
{"data": {"values": [{}]}, "mark": {"type": "rule", "color": "#0000ff", "strokeWidth": 4},
 "encoding": {"x": {"datum": 8.87}, "x2": {"datum": 26.14}, "y": {"datum": 23.03}}},
{"data": {"values": [{}]}, "mark": {"type": "rule", "color": "#0a0aee", "strokeWidth": 2.5, "strokeDash": [5, 3]},
 "encoding": {"x": {"datum": 8.72}, "x2": {"datum": 20.58}, "y": {"datum": 21.5}}},
{"data": {"values": [{}]}, "mark": {"type": "rule", "color": "#0a0aee", "strokeWidth": 2.5, "strokeDash": [5, 3]},
 "encoding": {"x": {"datum": 13.15}, "x2": {"datum": 19.44}, "y": {"datum": 18.6}}},
{"data": {"values": [{}]}, "mark": {"type": "rule", "color": "#000000", "strokeWidth": 2.5, "strokeDash": [5, 3]},
 "encoding": {"x": {"datum": 19.44}, "x2": {"datum": 23.15}, "y": {"datum": 18.6}}},
{"data": {"values": [{}]}, "mark": {"type": "rule", "color": "#0a0aee", "strokeWidth": 2.5, "strokeDash": [5, 3]},
 "encoding": {"x": {"datum": 23.15}, "x2": {"datum": 23.3}, "y": {"datum": 18.6}}},
{"data": {"values": [{}]}, "mark": {"type": "rule", "color": "#1a1aee", "strokeWidth": 1.3, "strokeDash": [4, 3]},
 "encoding": {"x": {"datum": 21.96}, "x2": {"datum": 23.0}, "y": {"datum": 19.43}}},
{"data": {"values": [{}]}, "mark": {"type": "rule", "color": "#000000", "strokeWidth": 2.5},
 "encoding": {"x": {"datum": 11.16}, "x2": {"datum": 18.02}, "y": {"datum": 23.44}, "y2": {"datum": 16.4}}},
{"data": {"values": [{}]}, "mark": {"type": "rule", "color": "#000000", "strokeWidth": 3, "strokeDash": [3, 3]},
 "encoding": {"x": {"datum": 16.88}, "x2": {"datum": 23.43}, "y": {"datum": 15.48}, "y2": {"datum": 21.57}}},
{"data": {"values": [{}]}, "mark": {"type": "rule", "color": "#1a2aff", "strokeWidth": 3, "strokeDash": [3, 3]},
 "encoding": {"x": {"datum": 20.28}, "x2": {"datum": 21.13}, "y": {"datum": 18.39}, "y2": {"datum": 19.2}}},
{"data": {"values": [{}]}, "mark": {"type": "rect", "fill": "#ffffff", "stroke": "#9a9a9a", "strokeWidth": 1},
 "encoding": {"x": {"datum": 14.53}, "x2": {"datum": 18.22}, "y": {"datum": 21.03}, "y2": {"datum": 20.39}}},
{"data": {"values": [{}]}, "mark": {"type": "text", "align": "left", "baseline": "middle", "font": "Liberation Sans", "fontSize": 19, "color": "#000"},
 "encoding": {"x": {"datum": 14.6}, "y": {"datum": 20.71}, "text": {"value": "VIX'60min cycle"}}},
{"data": {"values": [{}]}, "mark": {"type": "text", "align": "left", "baseline": "middle", "font": "DejaVu Sans", "fontSize": 7, "color": "#000"},
 "encoding": {"x": {"datum": 0.04}, "y": {"datum": 23.44}, "text": {"value": "▮▮"}}},
{"data": {"values": [{}]}, "mark": {"type": "text", "align": "left", "baseline": "middle", "font": "DejaVu Sans Mono", "fontSize": 10, "color": "#000"},
 "encoding": {"x": {"datum": 0.32}, "y": {"datum": 23.44}, "text": {"value": "$VIX (60 min) 17.33"}}},
{"data": {"values": [{}]}, "mark": {"type": "text", "align": "left", "baseline": "middle", "font": "DejaVu Sans", "fontSize": 9, "color": "#a0a0a0"},
 "encoding": {"x": {"datum": 0.04}, "y": {"datum": 23.18}, "text": {"value": "▲ BB(20,2.0) 17.01 - 19.81 - 22.60"}}},
{"data": {"values": [{}]}, "mark": {"type": "text", "align": "left", "baseline": "middle", "font": "DejaVu Sans", "fontSize": 9, "color": "#cc1f45"},
 "encoding": {"x": {"datum": 0.04}, "y": {"datum": 22.93}, "text": {"value": "▬ MA(10) 18.97"}}},
{"data": {"values": [{}]}, "mark": {"type": "text", "align": "left", "baseline": "middle", "font": "DejaVu Sans", "fontSize": 9, "color": "#2f5f3f"},
 "encoding": {"x": {"datum": 0.04}, "y": {"datum": 22.67}, "text": {"value": "▬ MA(50) 18.71"}}},
{"data": {"values": [{}]}, "mark": {"type": "text", "align": "left", "baseline": "middle", "font": "DejaVu Sans", "fontSize": 9, "color": "#ff00ff"},
 "encoding": {"x": {"datum": 0.04}, "y": {"datum": 22.42}, "text": {"value": "▬ MA(100) 19.42"}}},
{"data": {"values": [{}]}, "mark": {"type": "text", "align": "left", "baseline": "middle", "font": "DejaVu Sans", "fontSize": 9, "color": "#9933ff"},
 "encoding": {"x": {"datum": 0.04}, "y": {"datum": 22.16}, "text": {"value": "▬ MA(200) 18.45"}}},
{"data": {"values": [{"v":22.6,"k":"g"},{"v":19.81,"k":"g"},{"v":19.42,"k":"m100"},{"v":18.97,"k":"m10"},{"v":18.71,"k":"m50"},{"v":18.45,"k":"m200"},{"v":17.33,"k":"px"},{"v":17.01,"k":"g"}]},
 "mark": {"type": "point", "shape": "M-1,0L-0.76,-0.35L1,-0.35L1,0.35L-0.76,0.35Z", "size": 1296, "filled": true, "fill": "#ffffff", "opacity": 1},
 "encoding": {"x": {"datum": 28.56}, "y": {"field": "v", "type": "quantitative"},
  "stroke": {"field": "k", "type": "nominal", "scale": {"domain": ["g","m100","m10","m50","m200","px"], "range": ["#999999","#ff00ff","#cc1f45","#2f5f3f","#9933ff","#000000"]}, "legend": null},
  "strokeWidth": {"condition": {"test": "datum.k == 'px'", "value": 2}, "value": 1}}},
{"data": {"values": [{"v":22.6,"t":"22.60","k":"g"},{"v":19.81,"t":"19.81","k":"g"},{"v":19.42,"t":"19.42","k":"m100"},{"v":18.97,"t":"18.97","k":"m10"},{"v":18.71,"t":"18.71","k":"m50"},{"v":18.45,"t":"18.45","k":"m200"},{"v":17.33,"t":"17.33","k":"px"},{"v":17.01,"t":"17.01","k":"g"}]},
 "mark": {"type": "text", "align": "center", "baseline": "middle", "font": "Liberation Sans", "fontSize": 11, "color": "#000"},
 "encoding": {"x": {"datum": 28.61}, "y": {"field": "v", "type": "quantitative"}, "text": {"field": "t"},
  "fontWeight": {"condition": {"test": "datum.k == 'px'", "value": "bold"}, "value": "normal"}}}
]
},
{
"width": 1193, "height": 15,
"view": {"stroke": null, "fill": null},
"data": {"values": [{}]},
"mark": {"type": "text", "text": ""},
"encoding": {}
},
{
"width": 1193, "height": 145,
"layer": [
{"data": {"name": "candles"}, "mark": {"type": "bar", "width": 5, "color": "#4a9ad0", "stroke": "#1f5f8f", "strokeWidth": 0.7},
 "encoding": {"x": {"field": "x", "type": "quantitative", "scale": {"domain": [-0.054, 28.17], "nice": false, "zero": false},
   "axis": {"values": [0,1,2,3,4,5,6,7,8,9,10,11,12,13,14,15,16,17,18,19,20,21,22,23,24,25,26,27,28], "labels": false, "ticks": false, "domain": false, "grid": true, "title": null}},
  "y": {"field": "m", "type": "quantitative", "scale": {"domain": [-1.332, 1.314], "nice": false, "zero": false},
   "axis": {"orient": "right", "values": [-1, -0.5, 0, 0.5, 1], "labels": false, "title": null, "domain": false, "tickSize": 3}},
  "y2": {"datum": 0}}},
{"data": {"name": "macd"}, "transform": [{"filter": "datum.s == 'M'"}], "mark": {"type": "line", "color": "#000000", "strokeWidth": 1.8}, "encoding": {"x": {"field": "x", "type": "quantitative"}, "y": {"field": "v", "type": "quantitative"}}},
{"data": {"name": "macd"}, "transform": [{"filter": "datum.s == 'S'"}], "mark": {"type": "line", "color": "#ff0000", "strokeWidth": 1}, "encoding": {"x": {"field": "x", "type": "quantitative"}, "y": {"field": "v", "type": "quantitative"}}},
{"data": {"values": [{}]}, "mark": {"type": "text", "align": "left", "baseline": "middle", "font": "DejaVu Sans", "fontSize": 9, "color": "#000"},
 "encoding": {"x": {"datum": 0.04}, "y": {"datum": 1.173}, "text": {"value": "▬"}}},
{"data": {"values": [{}]}, "mark": {"type": "text", "align": "left", "baseline": "middle", "font": "DejaVu Sans Mono", "fontSize": 10, "color": "#000"},
 "encoding": {"x": {"datum": 0.3}, "y": {"datum": 1.173}, "text": {"value": "MACD(12,26,9) -0.386"}}},
{"data": {"values": [{}]}, "mark": {"type": "text", "align": "left", "baseline": "middle", "font": "DejaVu Sans Mono", "fontSize": 10, "color": "#ff0000"},
 "encoding": {"x": {"datum": 3.15}, "y": {"datum": 1.173}, "text": {"value": ", 0.053"}}},
{"data": {"values": [{}]}, "mark": {"type": "text", "align": "left", "baseline": "middle", "font": "DejaVu Sans Mono", "fontSize": 10, "color": "#4a9ad0"},
 "encoding": {"x": {"datum": 4.14}, "y": {"datum": 1.173}, "text": {"value": ", -0.439"}}},
{"data": {"values": [{"v":1,"t":"1.0"},{"v":0.5,"t":"0.5"},{"v":-0.5,"t":"-0.5"},{"v":-1,"t":"-1.0"}]},
 "mark": {"type": "text", "align": "left", "baseline": "middle", "font": "Liberation Sans", "fontSize": 11, "color": "#333333"},
 "encoding": {"x": {"datum": 28.29}, "y": {"field": "v", "type": "quantitative"}, "text": {"field": "t"}}},
{"data": {"values": [{"v":0.053}]},
 "mark": {"type": "point", "shape": "M-1,0L-0.76,-0.35L1,-0.35L1,0.35L-0.76,0.35Z", "size": 1296, "filled": true, "fill": "#ffffff", "stroke": "#ee1111", "strokeWidth": 1, "opacity": 1},
 "encoding": {"x": {"datum": 28.56}, "y": {"field": "v", "type": "quantitative"}}},
{"data": {"values": [{"v":0.053,"t":"0.053"}]},
 "mark": {"type": "text", "align": "center", "baseline": "middle", "font": "Liberation Sans", "fontSize": 11, "color": "#000"},
 "encoding": {"x": {"datum": 28.61}, "y": {"field": "v", "type": "quantitative"}, "text": {"field": "t"}}},
{"data": {"values": [{"v":-0.386}]},
 "mark": {"type": "point", "shape": "M-1,0L-0.76,-0.35L1,-0.35L1,0.35L-0.76,0.35Z", "size": 1296, "filled": true, "fill": "#ffffff", "stroke": "#000000", "strokeWidth": 1, "opacity": 1},
 "encoding": {"x": {"datum": 28.56}, "y": {"field": "v", "type": "quantitative"}}},
{"data": {"values": [{"v":-0.386,"t":"-0.386"}]},
 "mark": {"type": "text", "align": "center", "baseline": "middle", "font": "Liberation Sans", "fontSize": 11, "color": "#000"},
 "encoding": {"x": {"datum": 28.61}, "y": {"field": "v", "type": "quantitative"}, "text": {"field": "t"}}}
]
},
{
"width": 1193, "height": 145,
"layer": [
{"data": {"name": "candles"}, "mark": {"type": "bar", "width": 5, "color": "#4a9ad0", "stroke": "#1f5f8f", "strokeWidth": 0.7},
 "encoding": {"x": {"field": "x", "type": "quantitative", "scale": {"domain": [-0.054, 28.17], "nice": false, "zero": false},
   "axis": {"values": [0,1,2,3,4,5,6,7,8,9,10,11,12,13,14,15,16,17,18,19,20,21,22,23,24,25,26,27,28], "labels": false, "ticks": false, "domain": false, "grid": true, "title": null}},
  "y": {"field": "m", "type": "quantitative", "scale": {"domain": [-0.556, 0.538], "nice": false, "zero": false},
   "axis": {"orient": "right", "values": [-0.4, -0.2, 0, 0.2, 0.4], "labels": false, "title": null, "domain": false, "tickSize": 3}},
  "y2": {"datum": 0}}},
{"data": {"values": [{}]}, "mark": {"type": "text", "align": "left", "baseline": "middle", "font": "DejaVu Sans", "fontSize": 10, "color": "#333"},
 "encoding": {"x": {"datum": 0.04}, "y": {"datum": 0.48}, "text": {"value": "ılı"}}},
{"data": {"values": [{}]}, "mark": {"type": "text", "align": "left", "baseline": "middle", "font": "DejaVu Sans Mono", "fontSize": 10, "color": "#000"},
 "encoding": {"x": {"datum": 0.3}, "y": {"datum": 0.48}, "text": {"value": "MACD(12,26,9) Hist -0.439"}}},
{"data": {"values": [{"v":0.4,"t":"0.4"},{"v":0.2,"t":"0.2"},{"v":0,"t":"0.0"},{"v":-0.2,"t":"-0.2"}]},
 "mark": {"type": "text", "align": "left", "baseline": "middle", "font": "Liberation Sans", "fontSize": 11, "color": "#333333"},
 "encoding": {"x": {"datum": 28.29}, "y": {"field": "v", "type": "quantitative"}, "text": {"field": "t"}}},
{"data": {"values": [{"v":-0.439}]},
 "mark": {"type": "point", "shape": "M-1,0L-0.76,-0.35L1,-0.35L1,0.35L-0.76,0.35Z", "size": 1296, "filled": true, "fill": "#ffffff", "stroke": "#5b7f9f", "strokeWidth": 1, "opacity": 1},
 "encoding": {"x": {"datum": 28.56}, "y": {"field": "v", "type": "quantitative"}}},
{"data": {"values": [{"v":-0.439,"t":"-0.439"}]},
 "mark": {"type": "text", "align": "center", "baseline": "middle", "font": "Liberation Sans", "fontSize": 11, "color": "#000"},
 "encoding": {"x": {"datum": 28.61}, "y": {"field": "v", "type": "quantitative"}, "text": {"field": "t"}}}
]
},
{
"width": 1193, "height": 145,
"layer": [
{"data": {"values": [{}]}, "mark": {"type": "rule", "color": "#686868", "strokeWidth": 1.3},
 "encoding": {"x": {"datum": -0.054}, "x2": {"datum": 28.17}, "y": {"datum": 80, "type": "quantitative", "scale": {"domain": [-5.2, 106.4], "nice": false, "zero": false},
  "axis": {"orient": "right", "values": [0,10,20,30,40,50,60,70,80,90,100], "labels": false, "title": null, "domain": false, "tickSize": 3}}}},
{"data": {"values": [{}]}, "mark": {"type": "rule", "color": "#686868", "strokeWidth": 1.3},
 "encoding": {"x": {"datum": -0.054}, "x2": {"datum": 28.17}, "y": {"datum": 20}}},
{"data": {"values": [{}]}, "mark": {"type": "rule", "color": "#687068", "strokeWidth": 1, "strokeDash": [9, 3, 2, 3]},
 "encoding": {"x": {"datum": -0.054}, "x2": {"datum": 28.17}, "y": {"datum": 50}}},
{"data": {"name": "sto"}, "transform": [{"filter": "datum.s == 'D'"}], "mark": {"type": "line", "color": "#ff0000", "strokeWidth": 1},
 "encoding": {"x": {"field": "x", "type": "quantitative", "scale": {"domain": [-0.054, 28.17], "nice": false, "zero": false},
   "axis": {"values": [0,1,2,3,4,5,6,7,8,9,10,11,12,13,14,15,16,17,18,19,20,21,22,23,24,25,26,27,28], "labels": false, "ticks": false, "domain": false, "grid": true, "title": null}},
  "y": {"field": "v", "type": "quantitative"}}},
{"data": {"name": "sto"}, "transform": [{"filter": "datum.s == 'K'"}], "mark": {"type": "line", "color": "#000000", "strokeWidth": 1.8}, "encoding": {"x": {"field": "x", "type": "quantitative"}, "y": {"field": "v", "type": "quantitative"}}},
{"data": {"values": [{}]}, "mark": {"type": "text", "align": "left", "baseline": "middle", "font": "DejaVu Sans", "fontSize": 9, "color": "#000"},
 "encoding": {"x": {"datum": 0.04}, "y": {"datum": 100.5}, "text": {"value": "▬"}}},
{"data": {"values": [{}]}, "mark": {"type": "text", "align": "left", "baseline": "middle", "font": "DejaVu Sans Mono", "fontSize": 10, "color": "#000"},
 "encoding": {"x": {"datum": 0.3}, "y": {"datum": 100.5}, "text": {"value": "Full STO %K(14,3) %D(3) 2.24,"}}},
{"data": {"values": [{}]}, "mark": {"type": "text", "align": "left", "baseline": "middle", "font": "DejaVu Sans Mono", "fontSize": 10, "color": "#ff0000"},
 "encoding": {"x": {"datum": 4.57}, "y": {"datum": 100.5}, "text": {"value": "5.52"}}},
{"data": {"values": [{"v":80,"t":"80"},{"v":50,"t":"50"},{"v":20,"t":"20"}]},
 "mark": {"type": "text", "align": "left", "baseline": "middle", "font": "Liberation Sans", "fontSize": 11, "color": "#333333"},
 "encoding": {"x": {"datum": 28.29}, "y": {"field": "v", "type": "quantitative"}, "text": {"field": "t"}}},
{"data": {"values": [{"v":5.52}]},
 "mark": {"type": "point", "shape": "M-1,0L-0.76,-0.35L1,-0.35L1,0.35L-0.76,0.35Z", "size": 1296, "filled": true, "fill": "#ffffff", "stroke": "#ee1111", "strokeWidth": 1, "opacity": 1},
 "encoding": {"x": {"datum": 28.56}, "y": {"field": "v", "type": "quantitative"}}},
{"data": {"values": [{"v":5.52,"t":"5.52"}]},
 "mark": {"type": "text", "align": "center", "baseline": "middle", "font": "Liberation Sans", "fontSize": 11, "color": "#000"},
 "encoding": {"x": {"datum": 28.61}, "y": {"field": "v", "type": "quantitative"}, "text": {"field": "t"}}},
{"data": {"values": [{"v":2.24}]},
 "mark": {"type": "point", "shape": "M-1,0L-0.76,-0.35L1,-0.35L1,0.35L-0.76,0.35Z", "size": 1296, "filled": true, "fill": "#ffffff", "stroke": "#000000", "strokeWidth": 1, "opacity": 1},
 "encoding": {"x": {"datum": 28.56}, "y": {"field": "v", "type": "quantitative"}}},
{"data": {"values": [{"v":2.24,"t":"2.24"}]},
 "mark": {"type": "text", "align": "center", "baseline": "middle", "font": "Liberation Sans", "fontSize": 11, "color": "#000"},
 "encoding": {"x": {"datum": 28.61}, "y": {"field": "v", "type": "quantitative"}, "text": {"field": "t"}}}
]
},
{
"width": 1193, "height": 145,
"layer": [
{"data": {"name": "adx"}, "transform": [{"filter": "datum.s == 'P'"}], "mark": {"type": "line", "color": "#5a7560", "strokeWidth": 1},
 "encoding": {"x": {"field": "x", "type": "quantitative", "scale": {"domain": [-0.054, 28.17], "nice": false, "zero": false},
   "axis": {"values": [0,1,2,3,4,5,6,7,8,9,10,11,12,13,14,15,16,17,18,19,20,21,22,23,24,25,26,27,28],
    "labelExpr": "['31','2015','5','6','7','8','9','12','13','14','15','16','20','21','22','23','26','27','28','29','30','Feb','3','4','5','6','9','10','11'][datum.value]",
    "labelFontWeight": {"condition": {"test": "datum.value == 1 || datum.value == 21", "value": "bold"}, "value": "normal"},
    "labelOverlap": false, "ticks": false, "domain": false, "grid": true, "title": null, "labelPadding": 3, "labelFontSize": 11, "labelColor": "#111"}},
  "y": {"field": "v", "type": "quantitative", "scale": {"domain": [4.34, 55.4], "nice": false, "zero": false},
   "axis": {"orient": "right", "values": [10, 20, 30, 40, 50], "labels": false, "title": null, "domain": false, "tickSize": 3}}}},
{"data": {"name": "adx"}, "transform": [{"filter": "datum.s == 'N'"}], "mark": {"type": "line", "color": "#a3234f", "strokeWidth": 1}, "encoding": {"x": {"field": "x", "type": "quantitative"}, "y": {"field": "v", "type": "quantitative"}}},
{"data": {"name": "adx"}, "transform": [{"filter": "datum.s == 'A'"}], "mark": {"type": "line", "color": "#000000", "strokeWidth": 2}, "encoding": {"x": {"field": "x", "type": "quantitative"}, "y": {"field": "v", "type": "quantitative"}}},
{"data": {"values": [{}]}, "mark": {"type": "text", "align": "left", "baseline": "middle", "font": "DejaVu Sans", "fontSize": 9, "color": "#000"},
 "encoding": {"x": {"datum": 0.04}, "y": {"datum": 52.7}, "text": {"value": "▬"}}},
{"data": {"values": [{}]}, "mark": {"type": "text", "align": "left", "baseline": "middle", "font": "DejaVu Sans Mono", "fontSize": 10, "color": "#000"},
 "encoding": {"x": {"datum": 0.3}, "y": {"datum": 52.7}, "text": {"value": "ADX(14) 21.46"}}},
{"data": {"values": [{}]}, "mark": {"type": "text", "align": "left", "baseline": "middle", "font": "DejaVu Sans Mono", "fontSize": 10, "color": "#2f6f3f"},
 "encoding": {"x": {"datum": 2.3}, "y": {"datum": 52.7}, "text": {"value": "+DI 19.82"}}},
{"data": {"values": [{}]}, "mark": {"type": "text", "align": "left", "baseline": "middle", "font": "DejaVu Sans Mono", "fontSize": 10, "color": "#993355"},
 "encoding": {"x": {"datum": 3.72}, "y": {"datum": 52.7}, "text": {"value": "-DI 31.94"}}},
{"data": {"values": [{"v":50,"t":"50"},{"v":40,"t":"40"},{"v":30,"t":"30"},{"v":10,"t":"10"}]},
 "mark": {"type": "text", "align": "left", "baseline": "middle", "font": "Liberation Sans", "fontSize": 11, "color": "#333333"},
 "encoding": {"x": {"datum": 28.29}, "y": {"field": "v", "type": "quantitative"}, "text": {"field": "t"}}},
{"data": {"values": [{"v":31.94}]},
 "mark": {"type": "point", "shape": "M-1,0L-0.76,-0.35L1,-0.35L1,0.35L-0.76,0.35Z", "size": 1296, "filled": true, "fill": "#ffffff", "stroke": "#993355", "strokeWidth": 1, "opacity": 1},
 "encoding": {"x": {"datum": 28.56}, "y": {"field": "v", "type": "quantitative"}}},
{"data": {"values": [{"v":31.94,"t":"31.94"}]},
 "mark": {"type": "text", "align": "center", "baseline": "middle", "font": "Liberation Sans", "fontSize": 11, "color": "#000"},
 "encoding": {"x": {"datum": 28.61}, "y": {"field": "v", "type": "quantitative"}, "text": {"field": "t"}}},
{"data": {"values": [{"v":19.82}]},
 "mark": {"type": "point", "shape": "M-1,0L-0.76,-0.35L1,-0.35L1,0.35L-0.76,0.35Z", "size": 1296, "filled": true, "fill": "#ffffff", "stroke": "#2f6f3f", "strokeWidth": 1, "opacity": 1},
 "encoding": {"x": {"datum": 28.56}, "y": {"field": "v", "type": "quantitative"}}},
{"data": {"values": [{"v":19.82,"t":"19.82"}]},
 "mark": {"type": "text", "align": "center", "baseline": "middle", "font": "Liberation Sans", "fontSize": 11, "color": "#000"},
 "encoding": {"x": {"datum": 28.61}, "y": {"field": "v", "type": "quantitative"}, "text": {"field": "t"}}},
{"data": {"values": [{"v":21.46}]},
 "mark": {"type": "point", "shape": "M-1,0L-0.76,-0.35L1,-0.35L1,0.35L-0.76,0.35Z", "size": 1296, "filled": true, "fill": "#ffffff", "stroke": "#000000", "strokeWidth": 1, "opacity": 1},
 "encoding": {"x": {"datum": 28.56}, "y": {"field": "v", "type": "quantitative"}}},
{"data": {"values": [{"v":21.46,"t":"21.46"}]},
 "mark": {"type": "text", "align": "center", "baseline": "middle", "font": "Liberation Sans", "fontSize": 11, "color": "#000"},
 "encoding": {"x": {"datum": 28.61}, "y": {"field": "v", "type": "quantitative"}, "text": {"field": "t"}}}
]
}
],
"config": {
"view": {"fill": "#d8d8e6", "stroke": "#84848f", "strokeWidth": 1},
"axis": {"gridColor": "#c2c2d1", "gridWidth": 1, "labelFont": "Liberation Sans", "labelFontSize": 11, "labelColor": "#333333", "tickColor": "#84848f"},
"locale": {"number": {"decimal": ".", "thousands": ",", "grouping": [3], "currency": ["$", ""], "minus": "-"}}
}
}
